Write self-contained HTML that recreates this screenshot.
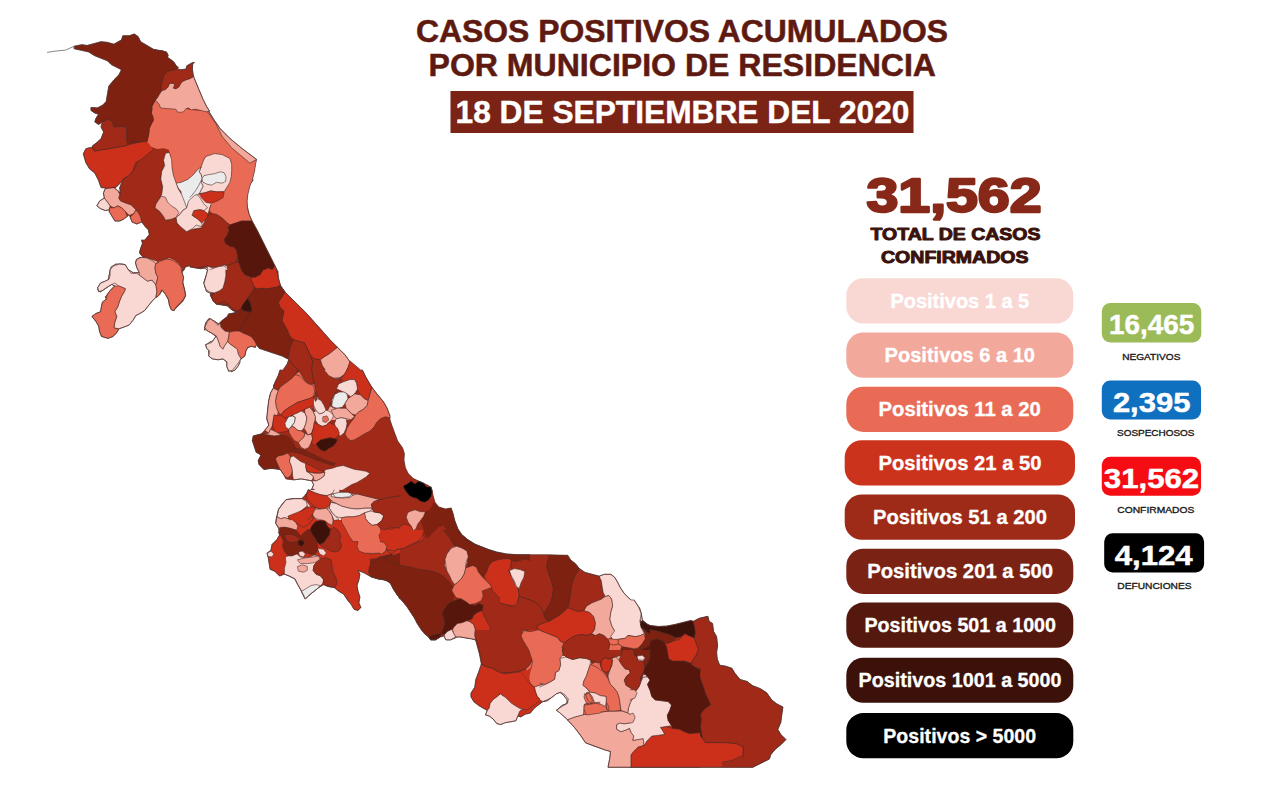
<!DOCTYPE html>
<html><head><meta charset="utf-8"><title>Casos positivos acumulados</title>
<style>
html,body{margin:0;padding:0;background:#fff;}
body{width:1280px;height:785px;overflow:hidden;font-family:"Liberation Sans",sans-serif;}
svg{display:block;font-family:"Liberation Sans",sans-serif;}
</style></head><body>
<svg width="1280" height="785" viewBox="0 0 1280 785">
<rect width="1280" height="785" fill="#ffffff"/>
<g id="map">
<path d="M92.2 146.1 L92.7 147.0 L85.9 148.7 L83.3 153.8 L85.9 162.7 L89.7 169.0 L94.8 172.9 L98.6 180.5 L101.1 187.6 L105.6 187.9 L103.4 193.4 L104.4 198.2 L99.6 201.1 L96.8 205.9 L100.6 208.7 L105.4 210.6 L109.7 209.6 L109.2 211.6 L114.9 221.1 L119.7 221.1 L123.5 219.2 L129.2 214.9 L132.1 222.1 L136.9 224.0 L141.8 222.0 L145.5 226.9 L148.3 229.7 L149.3 234.5 L146.4 238.3 L144.8 240.0 L141.6 240.0 L142.5 243.8 L140.6 248.6 L139.7 251.7 L139.9 252.1 L139.7 253.4 L143.8 257.5 L139.7 257.5 L139.2 258.2 L136.8 259.1 L135.5 262.9 L136.8 267.7 L139.3 272.7 L133.1 272.7 L128.1 269.4 L125.4 264.8 L123.9 264.6 L123.5 264.1 L121.1 264.1 L119.6 263.9 L118.9 264.1 L115.9 264.1 L111.1 267.0 L110.6 269.1 L110.1 269.6 L110.1 271.1 L109.2 274.6 L108.4 279.5 L105.3 281.1 L100.5 283.0 L97.6 287.8 L98.0 289.2 L97.7 289.9 L98.3 290.3 L98.6 291.6 L99.8 291.3 L100.6 291.8 L107.8 286.9 L111.8 284.5 L114.7 286.0 L110.1 290.6 L107.2 294.5 L107.1 294.9 L105.4 296.6 L106.4 299.1 L102.4 302.1 L101.5 305.9 L100.5 311.7 L95.7 313.6 L91.9 316.4 L95.7 321.2 L98.6 326.0 L99.6 331.7 L101.5 336.5 L108.2 338.4 L112.9 336.5 L116.8 332.7 L118.7 328.9 L124.4 326.9 L129.2 325.0 L133.0 320.3 L135.9 315.5 L139.7 313.6 L144.5 310.7 L152.1 301.1 L155.9 297.3 L156.9 297.3 L159.7 294.5 L160.3 293.1 L162.3 290.5 L165.5 294.5 L168.4 299.4 L169.3 305.0 L171.2 309.7 L174.1 310.7 L174.7 309.4 L182.7 301.4 L185.6 295.7 L184.6 289.9 L182.8 282.4 L183.6 277.3 L182.1 272.7 L182.4 271.2 L183.6 270.6 L185.5 266.8 L190.0 265.6 L190.0 266.9 L195.7 267.9 L200.8 268.7 L204.8 268.0 L207.5 270.7 L204.6 280.5 L203.8 282.3 L204.0 282.9 L203.8 283.4 L206.6 291.6 L210.4 293.1 L210.4 295.4 L212.6 299.6 L213.4 301.5 L215.3 302.9 L216.1 304.0 L217.2 304.4 L217.5 304.2 L227.6 305.9 L231.4 309.7 L237.0 312.6 L228.7 313.9 L227.3 316.6 L223.9 319.2 L222.9 319.7 L220.1 322.5 L219.0 324.2 L214.8 321.4 L212.5 320.3 L210.5 318.7 L210.2 319.1 L209.1 318.5 L208.7 319.4 L208.5 319.3 L205.6 323.1 L204.6 327.9 L205.0 328.1 L204.3 330.0 L206.8 330.0 L207.6 331.1 L211.8 333.2 L215.9 336.4 L212.5 341.2 L209.4 342.2 L207.8 343.8 L205.7 344.5 L206.7 348.3 L208.9 350.6 L208.5 352.7 L209.0 353.8 L208.6 356.0 L212.4 358.9 L218.2 359.8 L222.9 358.9 L225.5 360.8 L226.8 362.5 L226.8 366.5 L228.7 371.3 L230.6 370.8 L231.4 371.8 L235.2 369.9 L238.1 366.1 L240.0 362.3 L240.0 360.5 L241.1 358.9 L244.9 356.0 L245.9 351.2 L247.8 347.4 L251.6 346.4 L255.4 347.4 L256.4 344.5 L259.2 348.3 L282.2 356.0 L287.9 358.9 L288.9 359.8 L286.9 364.6 L283.1 370.0 L280.1 370.0 L278.2 375.7 L275.4 381.5 L273.6 385.6 L273.4 386.2 L273.7 387.1 L273.4 388.2 L270.6 392.9 L268.7 400.6 L266.8 417.8 L267.0 418.8 L266.9 420.0 L267.3 420.0 L268.7 425.4 L264.8 430.2 L261.0 434.0 L253.4 435.9 L252.4 440.7 L256.2 452.2 L261.0 455.0 L258.2 460.8 L259.1 464.6 L263.9 469.4 L271.5 468.4 L280.1 469.4 L283.9 475.1 L285.9 478.9 L293.5 479.9 L301.1 478.9 L311.7 480.8 L313.6 484.6 L311.7 489.4 L310.9 490.0 L308.3 490.0 L307.0 493.1 L305.0 495.2 L305.1 495.8 L301.6 498.6 L293.9 498.6 L286.3 499.6 L285.3 500.8 L284.9 500.9 L281.1 505.7 L280.5 506.8 L278.7 509.1 L276.8 516.8 L275.8 523.4 L278.7 528.2 L279.2 531.7 L278.7 533.0 L279.8 534.6 L276.8 539.7 L272.0 544.5 L271.0 550.2 L267.2 553.1 L268.2 556.9 L270.1 569.3 L274.8 571.2 L279.6 576.0 L284.4 574.1 L289.2 576.0 L294.9 578.9 L297.8 584.6 L301.6 591.3 L305.4 598.9 L309.2 595.1 L318.8 587.5 L323.6 584.6 L328.3 586.5 L334.1 587.5 L338.9 591.3 L343.6 594.1 L347.5 599.9 L351.3 604.6 L354.1 609.4 L358.0 610.4 L360.8 607.5 L358.9 602.7 L359.9 597.0 L358.0 591.3 L357.0 585.5 L358.9 579.8 L359.9 574.1 L358.0 570.3 L364.6 573.1 L371.3 576.9 L378.0 578.9 L383.8 579.8 L387.4 581.0 L390.5 583.5 L393.4 589.2 L397.2 595.0 L398.7 596.8 L400.0 598.9 L400.0 598.3 L406.8 606.4 L414.4 617.9 L417.3 623.6 L421.1 629.4 L424.9 634.1 L428.7 637.0 L430.6 639.9 L435.4 639.9 L440.2 637.0 L444.0 636.1 L445.9 639.9 L450.7 639.9 L452.1 639.0 L453.8 638.6 L457.0 637.0 L460.3 637.0 L471.7 638.9 L475.5 639.9 L479.4 654.2 L481.3 663.8 L481.0 665.7 L475.8 679.7 L474.8 687.3 L471.0 693.1 L471.0 696.9 L473.9 701.7 L478.7 705.5 L483.4 708.3 L487.3 710.3 L485.4 715.0 L489.2 716.0 L493.0 718.9 L496.8 723.6 L500.6 724.6 L505.4 722.7 L515.9 720.8 L517.8 716.0 L520.7 716.9 L525.5 714.1 L530.3 713.1 L534.1 708.3 L542.7 701.7 L547.5 700.7 L556.3 693.9 L560.0 692.4 L563.1 694.7 L566.9 699.5 L567.2 701.2 L566.6 703.6 L561.8 705.5 L558.5 708.8 L556.3 710.2 L559.8 712.8 L567.5 719.7 L574.4 727.4 L580.4 735.2 L585.6 742.9 L604.5 749.8 L610.5 751.5 L609.7 758.4 L608.0 767.3 L752.9 767.3 L769.4 759.0 L770.6 754.9 L774.7 749.8 L780.8 744.7 L785.9 739.6 L780.8 734.5 L777.8 729.4 L780.8 722.3 L782.9 707.0 L776.8 703.9 L771.7 699.9 L766.6 692.7 L760.4 688.7 L752.3 685.6 L747.2 681.5 L740.1 679.5 L735.0 673.4 L731.9 668.3 L725.8 666.2 L719.7 665.2 L717.2 659.1 L716.6 652.0 L717.6 645.9 L716.6 636.7 L713.6 631.6 L712.5 623.4 L709.1 621.4 L707.9 616.3 L699.3 618.3 L693.2 621.4 L691.1 620.4 L674.8 624.5 L666.7 626.1 L658.5 626.5 L650.4 625.5 L648.3 624.8 L642.4 620.2 L641.2 613.2 L639.5 607.8 L638.4 606.7 L634.1 600.0 L631.1 600.0 L629.0 598.2 L624.2 593.4 L620.4 587.7 L617.5 582.0 L614.6 577.2 L610.8 574.3 L604.1 574.3 L599.4 576.2 L585.0 572.4 L579.3 568.6 L575.5 563.8 L570.7 560.0 L567.8 555.2 L547.8 554.8 L517.6 554.8 L506.1 553.9 L496.6 552.0 L488.4 549.5 L475.1 544.2 L467.5 539.4 L461.7 534.6 L457.9 528.9 L455.0 521.3 L453.1 513.6 L451.2 507.9 L445.5 508.9 L438.8 506.9 L435.0 502.2 L433.1 495.5 L432.1 489.7 L431.6 489.1 L431.1 486.9 L430.0 486.9 L429.2 485.9 L423.5 483.1 L418.7 481.1 L413.0 478.3 L408.2 473.5 L405.4 467.8 L404.0 460.1 L404.4 453.4 L402.5 447.7 L397.7 441.0 L392.0 425.7 L390.0 419.8 L390.0 415.9 L387.1 408.2 L383.3 401.5 L377.6 394.8 L371.8 387.2 L366.1 377.6 L362.3 370.0 L360.6 370.0 L350.3 361.2 L349.6 361.2 L345.2 355.0 L329.9 339.7 L307.0 313.9 L285.0 292.0 L280.7 285.9 L279.8 283.4 L278.2 276.9 L277.9 271.7 L256.9 229.7 L252.1 221.1 L249.2 214.4 L247.3 206.8 L247.0 201.1 L248.0 193.8 L249.9 186.1 L251.0 183.1 L253.1 180.0 L252.4 180.0 L254.6 170.8 L255.6 164.1 L256.6 159.4 L241.3 147.9 L229.8 138.3 L220.3 128.8 L213.6 119.2 L208.8 111.3 L209.6 111.1 L207.1 107.3 L203.2 99.7 L193.7 76.8 L193.1 74.2 L192.4 69.1 L192.7 64.0 L194.3 62.4 L192.4 62.7 L186.7 65.9 L186.1 69.1 L181.0 69.7 L177.1 69.1 L178.4 67.8 L175.9 65.3 L173.9 62.1 L170.8 59.6 L169.2 58.8 L167.4 57.0 L168.2 55.7 L166.9 52.5 L166.2 52.3 L166.1 51.8 L163.9 51.4 L161.8 50.6 L158.9 50.4 L153.4 49.3 L140.6 41.7 L138.1 36.6 L134.3 34.0 L129.2 35.8 L122.8 35.8 L121.5 39.9 L113.9 44.2 L107.5 42.4 L101.1 41.7 L87.1 45.5 L82.0 44.7 L74.4 46.2 L74.4 48.8 L88.4 51.8 L94.8 55.7 L107.5 60.8 L111.3 64.6 L121.5 69.7 L119.0 74.8 L113.9 79.9 L108.8 86.2 L106.2 101.5 L102.4 105.4 L97.3 107.9 L91.0 107.4 L91.0 110.4 L94.8 113.0 L98.6 114.3 L96.1 118.1 L94.8 121.9 L98.6 124.5 L102.4 121.9 L101.1 127.0 L103.7 132.1 L101.1 138.5 L97.3 142.3ZM114.9 188.4 L122.4 180.9 L119.7 187.7 L120.4 192.5Z" fill="#a12917" fill-rule="evenodd"/>
<polygon points="280.1,370.0 362.3,370.0 366.1,377.6 371.8,387.2 377.6,394.8 383.3,401.5 387.1,408.2 390.0,415.9 390.0,520.0 277.3,520.0 278.2,511.4 281.1,505.7 284.9,500.9 291.6,499.9 299.2,499.0 305.9,499.9 305.0,495.2 307.8,492.3 311.7,489.4 313.6,484.6 311.7,480.8 301.1,478.9 293.5,479.9 285.9,478.9 283.9,475.1 280.1,469.4 271.5,468.4 263.9,469.4 259.1,464.6 258.2,460.8 261.0,455.0 256.2,452.2 254.3,446.4 252.4,440.7 253.4,435.9 261.0,434.0 264.8,430.2 268.7,425.4 266.8,417.8 267.7,408.2 268.7,400.6 270.6,392.9 273.4,388.2 275.4,381.5 278.2,375.7" fill="#a12917"/>
<polygon points="370.0,420.0 390.1,420.0 392.0,425.7 394.8,433.4 397.7,441.0 402.5,447.7 404.4,453.4 404.0,460.1 405.4,467.8 408.2,473.5 413.0,478.3 418.7,481.1 423.5,483.1 429.2,485.9 432.1,489.7 433.1,495.5 435.0,502.2 438.8,506.9 445.5,508.9 451.2,507.9 453.1,513.6 455.0,521.3 457.9,528.9 461.7,534.6 467.5,539.4 475.1,544.2 484.6,548.0 494.2,551.8 503.8,554.7 513.3,555.7 520.0,555.7 520.0,570.0 370.0,570.0" fill="#a12917"/>
<polygon points="380.0,530.0 457.4,530.0 460.3,534.8 465.0,539.6 471.7,543.4 479.4,546.2 487.0,549.1 496.6,552.0 506.1,553.9 517.6,554.8 530.0,554.8 530.0,680.0 478.4,680.0 480.3,671.4 481.3,663.8 479.4,654.2 477.5,646.6 475.5,639.9 471.7,638.9 466.0,638.0 460.3,637.0 455.5,637.0 450.7,639.9 445.9,639.9 444.0,636.1 440.2,637.0 435.4,639.9 430.6,639.9 428.7,637.0 424.9,634.1 421.1,629.4 417.3,623.6 414.4,617.9 410.6,612.2 406.8,606.4 402.0,600.7 397.2,595.0 393.4,589.2 390.5,583.5 385.7,579.7 380.0,578.7" fill="#a12917"/>
<polygon points="308.3,490.0 306.4,494.8 301.6,498.6 293.9,498.6 286.3,499.6 282.5,504.3 278.7,509.1 276.8,516.8 275.8,523.4 278.7,528.2 279.6,534.9 276.8,539.7 272.0,544.5 271.0,550.2 267.2,553.1 268.2,556.9 269.1,563.6 270.1,569.3 274.8,571.2 279.6,576.0 284.4,574.1 289.2,576.0 294.9,578.9 297.8,584.6 301.6,591.3 305.4,598.9 309.2,595.1 314.0,591.3 318.8,587.5 323.6,584.6 328.3,586.5 334.1,587.5 338.9,591.3 343.6,594.1 347.5,599.9 351.3,604.6 354.1,609.4 358.0,610.4 360.8,607.5 358.9,602.7 359.9,597.0 358.0,591.3 357.0,585.5 358.9,579.8 359.9,574.1 358.0,570.3 364.6,573.1 371.3,576.9 378.0,578.9 383.8,579.8 389.5,581.7 393.3,587.5 397.1,594.1 400.0,598.9 400.0,490.0" fill="#cc301a"/>
<path d="M308.3 490.0L306.4 494.8L301.6 498.6L293.9 498.6L286.3 499.6L282.5 504.3L278.7 509.1L276.8 516.8L275.8 523.4L278.7 528.2L279.6 534.9L276.8 539.7L272.0 544.5L271.0 550.2L267.2 553.1L268.2 556.9L269.1 563.6L270.1 569.3L274.8 571.2L279.6 576.0L284.4 574.1L289.2 576.0L294.9 578.9L297.8 584.6L301.6 591.3L305.4 598.9L309.2 595.1L314.0 591.3L318.8 587.5L323.6 584.6L328.3 586.5L334.1 587.5L338.9 591.3L343.6 594.1L347.5 599.9L351.3 604.6L354.1 609.4L358.0 610.4L360.8 607.5L358.9 602.7L359.9 597.0L358.0 591.3L357.0 585.5L358.9 579.8L359.9 574.1L358.0 570.3L364.6 573.1L371.3 576.9L378.0 578.9L383.8 579.8L389.5 581.7L393.3 587.5L397.1 594.1L400.0 598.9" fill="none" stroke="#4a2a26" stroke-opacity="0.65" stroke-width="0.9" stroke-linejoin="round" stroke-linecap="round"/>
<polygon points="138.8,160.0 163.6,160.0 164.6,165.7 161.7,171.5 160.8,179.1 162.7,186.8 161.7,194.4 159.8,198.2 156.0,203.9 155.0,207.8 159.8,211.6 163.6,216.4 165.5,220.2 171.3,219.2 176.1,217.3 177.0,223.1 180.8,226.9 186.6,231.7 192.3,228.8 196.1,225.0 201.8,226.9 203.8,221.1 207.6,217.3 213.3,214.5 220.0,216.4 220.0,268.9 215.2,267.0 209.5,268.0 203.8,267.0 198.0,268.0 192.3,266.1 186.6,265.1 182.7,268.9 180.8,266.1 178.9,263.2 174.1,259.4 169.4,257.5 163.6,259.4 157.9,261.3 152.2,259.4 146.4,257.5 141.7,255.5 139.7,251.7 141.7,246.0 143.6,241.2 146.4,238.3 149.3,234.5 148.3,229.7 145.5,226.9 142.6,223.1 140.7,217.3 138.8,213.5 135.9,209.7 131.1,204.9 125.4,203.0 120.6,201.1 118.7,198.2 120.6,194.4 119.7,187.7 121.6,182.9 123.5,179.1 127.3,176.2 131.1,173.4 135.0,167.6 136.9,163.8" fill="#a12917"/>
<path d="M163.6 160.0L164.6 165.7L161.7 171.5L160.8 179.1L162.7 186.8L161.7 194.4L159.8 198.2L156.0 203.9L155.0 207.8L159.8 211.6L163.6 216.4L165.5 220.2L171.3 219.2L176.1 217.3L177.0 223.1L180.8 226.9L186.6 231.7L192.3 228.8L196.1 225.0L201.8 226.9L203.8 221.1L207.6 217.3L213.3 214.5L220.0 216.4M220.0 268.9L215.2 267.0L209.5 268.0L203.8 267.0L198.0 268.0L192.3 266.1L186.6 265.1L182.7 268.9L180.8 266.1L178.9 263.2L174.1 259.4L169.4 257.5L163.6 259.4L157.9 261.3L152.2 259.4L146.4 257.5L141.7 255.5L139.7 251.7L141.7 246.0L143.6 241.2L146.4 238.3L149.3 234.5L148.3 229.7L145.5 226.9L142.6 223.1L140.7 217.3L138.8 213.5L135.9 209.7L131.1 204.9L125.4 203.0L120.6 201.1L118.7 198.2L120.6 194.4L119.7 187.7L121.6 182.9L123.5 179.1L127.3 176.2L131.1 173.4L135.0 167.6L136.9 163.8L138.8 160.0" fill="none" stroke="#4a2a26" stroke-opacity="0.65" stroke-width="0.9" stroke-linejoin="round" stroke-linecap="round"/>
<polygon points="141.6,240.0 240.0,240.0 240.0,264.8 237.1,261.0 231.4,262.0 227.6,264.8 223.8,265.8 218.0,266.8 212.3,268.7 206.6,267.7 200.8,268.7 195.1,267.7 189.4,265.8 185.5,266.8 183.6,270.6 181.7,271.5 180.8,266.8 176.9,262.9 172.2,260.1 166.4,259.1 160.7,261.0 155.9,263.9 153.1,261.0 147.3,258.2 142.5,256.2 139.7,253.4 140.6,248.6 142.5,243.8" fill="#a12917"/>
<path d="M240.0 264.8L237.1 261.0L231.4 262.0L227.6 264.8L223.8 265.8L218.0 266.8L212.3 268.7L206.6 267.7L200.8 268.7L195.1 267.7L189.4 265.8L185.5 266.8L183.6 270.6L181.7 271.5L180.8 266.8L176.9 262.9L172.2 260.1L166.4 259.1L160.7 261.0L155.9 263.9L153.1 261.0L147.3 258.2L142.5 256.2L139.7 253.4L140.6 248.6L142.5 243.8L141.6 240.0" fill="none" stroke="#4a2a26" stroke-opacity="0.65" stroke-width="0.9" stroke-linejoin="round" stroke-linecap="round"/>
<polygon points="227.6,264.8 231.4,262.0 237.1,261.0 240.0,264.8 240.0,312.6 235.2,311.7 231.4,309.7 227.6,305.9 221.8,305.0 216.1,304.0 212.3,299.2 210.4,295.4 210.4,293.1 216.1,291.6 219.9,288.7 223.8,285.9 225.7,280.1 226.6,274.4 227.6,268.7" fill="#a12917"/>
<path d="M240.0 312.6L235.2 311.7L231.4 309.7L227.6 305.9L221.8 305.0L216.1 304.0L212.3 299.2L210.4 295.4L210.4 293.1L216.1 291.6L219.9 288.7L223.8 285.9L225.7 280.1L226.6 274.4L227.6 268.7L227.6 264.8L231.4 262.0L237.1 261.0L240.0 264.8" fill="none" stroke="#4a2a26" stroke-opacity="0.65" stroke-width="0.9" stroke-linejoin="round" stroke-linecap="round"/>
<polygon points="190.0,229.7 195.7,228.7 201.5,227.8 203.4,223.9 206.2,218.2 209.1,214.4 212.0,213.4 216.8,214.4 222.5,218.2 226.3,222.0 230.1,224.9 228.2,227.8 229.2,230.6 227.3,235.4 224.4,239.2 225.4,243.1 229.2,245.9 233.9,246.9 236.8,250.7 237.8,256.4 235.9,262.2 231.1,264.1 227.3,266.0 224.4,265.0 218.7,266.9 212.9,267.9 207.2,266.0 201.5,266.9 195.7,267.9 190.0,266.9" fill="#a12917"/>
<path d="M190.0 229.7L195.7 228.7L201.5 227.8L203.4 223.9L206.2 218.2L209.1 214.4L212.0 213.4L216.8 214.4L222.5 218.2L226.3 222.0L230.1 224.9L228.2 227.8L229.2 230.6L227.3 235.4L224.4 239.2L225.4 243.1L229.2 245.9L233.9 246.9L236.8 250.7L237.8 256.4L235.9 262.2L231.1 264.1L227.3 266.0L224.4 265.0L218.7 266.9L212.9 267.9L207.2 266.0L201.5 266.9L195.7 267.9L190.0 266.9" fill="none" stroke="#4a2a26" stroke-opacity="0.65" stroke-width="0.9" stroke-linejoin="round" stroke-linecap="round"/>
<polygon points="153.4,149.9 157.2,148.7 164.8,148.7 168.7,152.5 166.1,158.9 164.1,161.4 138.9,161.4 141.9,158.9 149.6,152.5" fill="#a12917"/>
<polygon points="190.0,180.0 231.1,180.0 231.1,183.8 228.2,187.6 223.4,191.5 224.4,195.3 220.6,199.1 214.8,201.0 211.0,204.8 209.1,210.6 206.2,218.2 203.4,223.9 201.5,227.8 195.7,228.7 190.0,229.7" fill="#f9d8d4"/>
<path d="M231.1 180.0L231.1 183.8L228.2 187.6L223.4 191.5L224.4 195.3L220.6 199.1L214.8 201.0L211.0 204.8L209.1 210.6L206.2 218.2L203.4 223.9L201.5 227.8L195.7 228.7L190.0 229.7" fill="none" stroke="#4a2a26" stroke-opacity="0.65" stroke-width="0.9" stroke-linejoin="round" stroke-linecap="round"/>
<polygon points="433.1,502.2 438.8,506.9 445.5,508.9 451.2,507.9 453.1,513.6 455.0,521.3 452.2,527.0 450.3,532.7 446.4,529.9 443.6,526.1 438.8,527.0 435.0,530.8 431.1,534.6 427.3,538.5 424.5,534.6 423.5,528.9 420.6,520.3 423.5,516.5 425.4,511.7 429.2,509.8 432.1,506.0" fill="#7f2110"/>
<polygon points="455.0,521.3 457.9,528.9 461.7,534.6 467.5,539.4 475.1,544.2 484.6,548.0 494.2,551.8 503.8,554.7 513.3,555.7 520.0,555.7 520.0,563.3 515.2,562.4 511.4,559.5 503.8,557.6 496.1,558.5 490.4,561.4 488.5,567.1 487.5,570.0 469.4,570.0 468.4,563.3 467.5,555.7 464.6,549.9 459.8,547.1 455.0,546.1 452.2,542.3 450.3,538.5 450.3,532.7 452.2,527.0" fill="#7f2110"/>
<path d="M520.0 563.3L515.2 562.4L511.4 559.5L503.8 557.6L496.1 558.5L490.4 561.4L488.5 567.1L487.5 570.0M469.4 570.0L468.4 563.3L467.5 555.7L464.6 549.9L459.8 547.1L455.0 546.1L452.2 542.3L450.3 538.5L450.3 532.7L452.2 527.0L455.0 521.3L457.9 528.9L461.7 534.6L467.5 539.4L475.1 544.2L484.6 548.0L494.2 551.8L503.8 554.7L513.3 555.7L520.0 555.7" fill="none" stroke="#4a2a26" stroke-opacity="0.65" stroke-width="0.9" stroke-linejoin="round" stroke-linecap="round"/>
<polygon points="500.0,554.8 547.8,554.8 547.8,560.0 500.0,560.0" fill="#a12917"/>
<polygon points="547.8,554.8 567.8,555.2 570.7,560.0 547.8,560.0" fill="#7f2110"/>
<polygon points="155.5,100.3 157.4,102.2 159.3,104.8 160.6,108.0 166.9,108.6 166.9,116.2 152.9,116.2 151.0,112.4 151.0,107.3 152.9,103.5" fill="#e96b55"/>
<polygon points="233.9,180.0 253.1,180.0 249.2,185.7 247.3,191.5 246.9,199.1 247.3,206.8 249.2,214.4 252.1,221.1 247.3,221.1 241.6,221.1 235.9,223.0 230.1,224.9 226.3,222.0 222.5,218.2 216.8,214.4 212.0,213.4 209.1,210.6 211.0,204.8 214.8,201.0 220.6,199.1 224.4,195.3 223.4,191.5 228.2,187.6 231.1,183.8" fill="#e96b55"/>
<path d="M253.1 180.0L249.2 185.7L247.3 191.5L246.9 199.1L247.3 206.8L249.2 214.4L252.1 221.1L247.3 221.1L241.6 221.1L235.9 223.0L230.1 224.9L226.3 222.0L222.5 218.2L216.8 214.4L212.0 213.4L209.1 210.6L211.0 204.8L214.8 201.0L220.6 199.1L224.4 195.3L223.4 191.5L228.2 187.6L231.1 183.8L233.9 180.0" fill="none" stroke="#4a2a26" stroke-opacity="0.65" stroke-width="0.9" stroke-linejoin="round" stroke-linecap="round"/>
<polygon points="511.5,560.0 547.8,560.0 546.8,566.7 548.7,573.4 551.6,581.0 553.5,588.7 552.5,596.3 550.6,603.0 546.8,608.7 543.9,614.5 541.1,607.8 536.3,603.0 530.6,600.1 524.8,598.2 519.1,596.3 518.2,588.7 515.3,582.9 511.5,576.2 508.6,570.5 510.5,565.7" fill="#a12917"/>
<path d="M547.8 560.0L546.8 566.7L548.7 573.4L551.6 581.0L553.5 588.7L552.5 596.3L550.6 603.0L546.8 608.7L543.9 614.5L541.1 607.8L536.3 603.0L530.6 600.1L524.8 598.2L519.1 596.3L518.2 588.7L515.3 582.9L511.5 576.2L508.6 570.5L510.5 565.7L511.5 560.0" fill="none" stroke="#4a2a26" stroke-opacity="0.65" stroke-width="0.9" stroke-linejoin="round" stroke-linecap="round"/>
<polygon points="500.0,603.0 507.6,604.9 513.4,605.9 517.2,602.0 519.1,596.3 524.8,598.2 530.6,600.1 536.3,603.0 541.1,607.8 543.9,614.5 545.9,619.2 549.7,621.1 545.9,622.1 541.1,624.0 537.3,625.9 538.2,629.7 530.6,631.7 524.8,630.7 521.0,635.5 522.9,640.3 525.8,645.0 528.7,649.8 530.6,655.5 532.5,661.3 531.5,667.0 527.7,669.9 521.0,671.8 513.4,672.7 505.7,673.7 500.0,672.7" fill="#a12917"/>
<path d="M500.0 603.0L507.6 604.9L513.4 605.9L517.2 602.0L519.1 596.3L524.8 598.2L530.6 600.1L536.3 603.0L541.1 607.8L543.9 614.5L545.9 619.2L549.7 621.1L545.9 622.1L541.1 624.0L537.3 625.9L538.2 629.7L530.6 631.7L524.8 630.7L521.0 635.5L522.9 640.3L525.8 645.0L528.7 649.8L530.6 655.5L532.5 661.3L531.5 667.0L527.7 669.9L521.0 671.8L513.4 672.7L505.7 673.7L500.0 672.7" fill="none" stroke="#4a2a26" stroke-opacity="0.65" stroke-width="0.9" stroke-linejoin="round" stroke-linecap="round"/>
<polygon points="630.0,647.9 634.1,648.9 638.2,647.9 641.2,648.9 645.3,647.9 649.4,645.9 650.4,652.0 648.3,658.1 644.3,663.2 643.2,670.3 647.3,674.4 650.4,678.5 647.3,676.4 644.3,677.5 641.2,680.5 638.2,685.6 634.1,689.7 630.0,687.6" fill="#a12917"/>
<path d="M630.0 647.9L634.1 648.9L638.2 647.9L641.2 648.9L645.3 647.9L649.4 645.9L650.4 652.0L648.3 658.1L644.3 663.2L643.2 670.3L647.3 674.4L650.4 678.5L647.3 676.4L644.3 677.5L641.2 680.5L638.2 685.6L634.1 689.7L630.0 687.6" fill="none" stroke="#4a2a26" stroke-opacity="0.65" stroke-width="0.9" stroke-linejoin="round" stroke-linecap="round"/>
<polygon points="348.5,361.2 350.3,361.2 364.6,373.4 362.3,370.8 348.5,370.8" fill="#cc301a"/>
<polygon points="608.0,639.3 612.7,639.3 618.5,639.3 618.5,644.1 613.7,645.0 609.9,644.1" fill="#e96b55"/>
<polygon points="74.4,46.2 82.0,44.7 87.1,45.5 94.8,43.4 101.1,41.7 107.5,42.4 113.9,44.2 121.5,39.9 122.8,35.8 129.2,35.8 134.3,34.0 138.1,36.6 140.6,41.7 147.0,45.5 153.4,49.3 159.7,50.6 166.1,51.8 167.4,56.9 172.5,62.0 176.3,67.1 177.6,69.7 167.4,71.0 164.8,74.8 162.3,79.9 159.7,85.0 155.9,86.8 154.6,91.3 158.5,96.4 154.6,101.5 152.1,106.6 152.1,114.3 154.6,120.6 152.1,127.0 149.6,133.4 147.0,139.7 141.9,141.8 127.9,144.8 126.6,139.7 126.6,127.0 121.5,126.5 113.9,127.0 111.3,120.6 107.5,119.4 102.4,121.9 98.6,124.5 94.8,121.9 96.1,118.1 98.6,114.3 94.8,113.0 91.0,110.4 91.0,107.4 97.3,107.9 102.4,105.4 106.2,101.5 107.5,93.9 108.8,86.2 113.9,79.9 119.0,74.8 121.5,69.7 116.4,67.1 111.3,64.6 107.5,60.8 101.1,58.2 94.8,55.7 88.4,51.8 80.8,50.1 74.4,48.8" fill="#7f2110" stroke="#4a2a26" stroke-opacity="0.65" stroke-width="0.9" stroke-linejoin="round" stroke-linecap="round"/>
<polygon points="127.9,144.8 141.9,141.8 147.0,139.7 150.8,144.8 153.4,149.9 149.6,152.5 141.9,158.9 135.5,162.7 133.0,170.3 129.2,175.4 124.1,178.0 120.3,183.1 116.4,186.9 108.8,188.2 101.1,187.6 98.6,180.5 94.8,172.9 89.7,169.0 85.9,162.7 83.3,153.8 85.9,148.7 91.0,147.4 94.8,151.2 101.1,149.9 108.8,148.7 116.4,147.4 124.1,146.1" fill="#cc301a" stroke="#4a2a26" stroke-opacity="0.65" stroke-width="0.9" stroke-linejoin="round" stroke-linecap="round"/>
<polygon points="102.4,121.9 107.5,119.4 111.3,120.6 113.9,127.0 121.5,126.5 126.6,127.0 126.6,139.7 127.9,144.8 124.1,146.1 116.4,147.4 108.8,148.7 101.1,149.9 94.8,151.2 92.2,146.1 97.3,142.3 101.1,138.5 103.7,132.1 101.1,127.0" fill="#a12917" stroke="#4a2a26" stroke-opacity="0.65" stroke-width="0.9" stroke-linejoin="round" stroke-linecap="round"/>
<polygon points="154.3,105.9 159.1,107.8 176.3,108.7 180.1,112.5 185.9,108.7 190.6,110.1 197.3,110.6 207.8,111.6 215.5,123.1 222.2,136.4 231.7,147.9 243.2,157.5 249.9,163.2 256.6,159.4 255.6,164.1 254.6,170.8 252.7,178.5 249.9,186.1 248.0,193.8 247.0,201.4 246.1,210.0 216.4,210.0 212.6,207.1 210.7,203.3 216.4,201.4 223.1,197.6 224.1,191.8 226.9,187.1 229.8,182.3 231.3,176.6 231.7,170.8 231.7,164.1 229.8,158.4 222.2,154.6 214.5,153.6 205.9,156.5 203.1,161.3 201.1,167.0 197.3,169.9 193.5,174.6 187.8,179.4 181.1,182.3 176.3,183.2 174.4,178.5 172.5,170.8 171.5,163.2 170.6,155.5 168.7,149.8 163.9,148.3 157.2,148.9 151.5,146.9 147.6,142.2 148.6,136.4 149.6,128.8 153.4,121.1 151.5,113.5" fill="#e96b55"/>
<polygon points="207.8,111.6 208.8,111.2 213.6,119.2 220.3,128.8 229.8,138.3 241.3,147.9 252.7,156.5 256.6,159.4 249.9,163.2 243.2,157.5 231.7,147.9 222.2,136.4 215.5,123.1" fill="#f3a89c" stroke="#4a2a26" stroke-opacity="0.65" stroke-width="0.9" stroke-linejoin="round" stroke-linecap="round"/>
<polygon points="205.9,156.5 214.5,153.6 222.2,154.6 229.8,158.4 231.7,164.1 231.7,170.8 231.3,176.6 229.8,182.3 226.9,187.1 224.1,191.8 216.4,191.8 210.7,190.9 205.0,192.8 199.2,193.8 201.1,189.9 203.1,186.1 201.1,182.3 202.1,178.5 201.1,174.6 199.2,171.8 201.1,167.0 203.1,161.3" fill="#f9d8d4" stroke="#4a2a26" stroke-opacity="0.65" stroke-width="0.9" stroke-linejoin="round" stroke-linecap="round"/>
<polygon points="176.3,183.2 181.1,182.3 187.8,179.4 193.5,174.6 197.3,169.9 201.1,167.0 199.2,171.8 201.1,174.6 202.1,178.5 201.1,182.3 203.1,186.1 201.1,189.9 199.2,193.8 195.4,195.7 191.6,198.5 188.7,202.4 186.8,207.1 184.9,210.0 183.0,205.2 181.1,197.6 181.1,191.8 178.2,188.0" fill="#ebebeb" stroke="#4a2a26" stroke-opacity="0.65" stroke-width="0.9" stroke-linejoin="round" stroke-linecap="round"/>
<polygon points="199.2,193.8 205.0,192.8 210.7,190.9 216.4,191.8 224.1,191.8 223.1,197.6 216.4,201.4 210.7,203.3 205.9,202.4 202.1,198.5" fill="#cc301a" stroke="#4a2a26" stroke-opacity="0.65" stroke-width="0.9" stroke-linejoin="round" stroke-linecap="round"/>
<polygon points="163.6,160.0 165.5,153.3 169.4,152.4 171.7,160.0 172.0,167.6 173.4,175.3 176.2,183.3 178.2,188.7 181.6,194.4 184.6,202.0 186.6,207.8 182.7,210.6 179.9,214.5 176.1,217.3 171.3,219.2 165.5,220.2 163.6,216.4 159.8,211.6 155.0,207.8 156.0,203.9 159.8,198.2 161.7,194.4 162.7,186.8 160.8,179.1 161.7,171.5 164.6,165.7" fill="#f9d8d4" stroke="#4a2a26" stroke-opacity="0.65" stroke-width="0.9" stroke-linejoin="round" stroke-linecap="round"/>
<polygon points="186.6,207.8 188.5,201.1 192.3,197.3 196.1,194.4 199.0,196.3 203.8,203.9 207.6,207.8 203.8,210.6 199.9,209.7 194.2,210.6 192.3,215.4 198.0,219.2 201.8,223.1 201.8,226.9 196.1,225.0 192.3,228.8 186.6,231.7 180.8,226.9 177.0,223.1 176.1,217.3 179.9,214.5 182.7,210.6" fill="#f9d8d4" stroke="#4a2a26" stroke-opacity="0.65" stroke-width="0.9" stroke-linejoin="round" stroke-linecap="round"/>
<polygon points="105.4,188.7 113.9,187.7 117.8,190.6 119.7,194.4 118.7,198.2 120.6,201.1 125.4,203.0 131.1,204.9 135.9,209.7 134.0,213.5 129.2,215.4 125.4,211.6 121.6,207.8 117.8,205.9 113.9,207.8 110.1,205.9 107.3,202.0 104.4,198.2 103.4,193.4" fill="#f3a89c" stroke="#4a2a26" stroke-opacity="0.65" stroke-width="0.9" stroke-linejoin="round" stroke-linecap="round"/>
<polygon points="104.4,198.2 107.3,202.0 110.1,205.9 109.2,209.7 105.4,210.6 100.6,208.7 96.8,205.9 99.6,201.1" fill="#f9d8d4" stroke="#4a2a26" stroke-opacity="0.65" stroke-width="0.9" stroke-linejoin="round" stroke-linecap="round"/>
<polygon points="110.1,207.8 113.9,207.8 117.8,205.9 121.6,207.8 125.4,211.6 127.3,216.4 123.5,219.2 119.7,221.1 114.9,221.1 112.0,216.4 109.2,211.6" fill="#e96b55" stroke="#4a2a26" stroke-opacity="0.65" stroke-width="0.9" stroke-linejoin="round" stroke-linecap="round"/>
<polygon points="134.0,213.5 135.9,209.7 138.8,213.5 140.7,217.3 141.7,222.1 136.9,224.0 132.1,222.1 130.2,217.3" fill="#e96b55" stroke="#4a2a26" stroke-opacity="0.65" stroke-width="0.9" stroke-linejoin="round" stroke-linecap="round"/>
<polygon points="139.7,257.5 146.4,257.5 152.2,259.4 157.9,261.3 156.0,266.1 154.1,269.9 156.9,274.6 157.9,278.5 154.1,281.3 148.3,279.4 143.6,276.6 139.7,272.7 138.8,267.0 135.9,262.2" fill="#f3a89c" stroke="#4a2a26" stroke-opacity="0.65" stroke-width="0.9" stroke-linejoin="round" stroke-linecap="round"/>
<polygon points="157.9,261.3 163.6,259.4 169.4,257.5 174.1,259.4 178.9,263.2 180.8,266.1 182.7,268.9 181.8,274.6 182.7,282.3 184.6,289.9 185.6,295.7 182.7,301.4 178.9,305.2 174.1,310.0 171.3,305.2 168.4,299.5 165.5,293.8 162.7,289.9 159.8,293.8 156.0,296.6 154.1,291.8 155.0,286.1 153.1,283.2 154.1,281.3 157.9,278.5 156.9,274.6 154.1,269.9 156.0,266.1" fill="#e96b55" stroke="#4a2a26" stroke-opacity="0.65" stroke-width="0.9" stroke-linejoin="round" stroke-linecap="round"/>
<polygon points="111.1,267.0 115.9,264.1 123.5,264.1 127.3,268.9 133.1,272.7 139.7,272.7 143.6,276.6 148.3,279.4 154.1,281.3 153.1,283.2 155.0,286.1 154.1,291.8 150.3,297.6 146.4,303.3 142.6,310.0 117.8,310.0 119.7,305.2 123.5,299.5 125.4,293.8 121.6,291.8 114.9,286.1 111.1,284.2 106.3,288.0 100.6,291.8 97.7,289.9 99.6,285.2 103.4,282.3 108.2,280.4 109.2,274.6" fill="#f9d8d4"/>
<path d="M117.8 310.0L119.7 305.2L123.5 299.5L125.4 293.8L121.6 291.8L114.9 286.1L111.1 284.2L106.3 288.0L100.6 291.8L97.7 289.9L99.6 285.2L103.4 282.3L108.2 280.4L109.2 274.6L111.1 267.0L115.9 264.1L123.5 264.1L127.3 268.9L133.1 272.7L139.7 272.7L143.6 276.6L148.3 279.4L154.1 281.3L153.1 283.2L155.0 286.1L154.1 291.8L150.3 297.6L146.4 303.3L142.6 310.0" fill="none" stroke="#4a2a26" stroke-opacity="0.65" stroke-width="0.9" stroke-linejoin="round" stroke-linecap="round"/>
<polygon points="114.9,286.1 121.6,291.8 125.4,293.8 123.5,299.5 119.7,305.2 117.8,310.0 101.5,310.0 103.4,305.2 107.3,301.4 105.4,296.6 110.1,291.8" fill="#e96b55"/>
<path d="M101.5 310.0L103.4 305.2L107.3 301.4L105.4 296.6L110.1 291.8L114.9 286.1L121.6 291.8L125.4 293.8L123.5 299.5L119.7 305.2L117.8 310.0" fill="none" stroke="#4a2a26" stroke-opacity="0.65" stroke-width="0.9" stroke-linejoin="round" stroke-linecap="round"/>
<polygon points="203.8,267.0 209.5,268.0 215.2,267.0 220.0,268.9 220.0,289.9 215.2,291.8 209.5,291.8 205.7,288.0 203.8,282.3 206.6,276.6 207.6,270.8" fill="#f9d8d4"/>
<path d="M220.0 289.9L215.2 291.8L209.5 291.8L205.7 288.0L203.8 282.3L206.6 276.6L207.6 270.8L203.8 267.0L209.5 268.0L215.2 267.0L220.0 268.9" fill="none" stroke="#4a2a26" stroke-opacity="0.65" stroke-width="0.9" stroke-linejoin="round" stroke-linecap="round"/>
<polygon points="230.1,224.9 235.9,223.0 241.6,221.1 247.3,221.1 252.1,221.1 256.9,229.7 261.7,239.2 266.4,248.8 271.2,258.3 275.0,266.0 272.2,269.8 268.3,267.9 264.5,269.8 261.7,273.6 257.8,276.5 253.1,277.5 247.3,275.5 243.5,272.7 240.6,267.9 238.7,262.2 237.8,256.4 236.8,250.7 233.9,246.9 229.2,245.9 225.4,243.1 224.4,239.2 227.3,235.4 229.2,230.6 228.2,227.8" fill="#57160c" stroke="#4a2a26" stroke-opacity="0.65" stroke-width="0.9" stroke-linejoin="round" stroke-linecap="round"/>
<polygon points="275.0,266.0 277.9,271.7 278.3,279.4 280.8,286.1 277.9,288.0 272.2,288.0 268.3,289.9 265.5,288.9 260.7,288.9 255.9,288.0 254.0,283.2 255.0,279.4 253.1,277.5 257.8,276.5 261.7,273.6 264.5,269.8 268.3,267.9 272.2,269.8" fill="#cc301a" stroke="#4a2a26" stroke-opacity="0.65" stroke-width="0.9" stroke-linejoin="round" stroke-linecap="round"/>
<polygon points="231.1,264.1 235.9,262.2 238.7,262.2 240.6,267.9 243.5,272.7 247.3,275.5 253.1,277.5 255.0,279.4 254.0,283.2 255.9,288.0 253.1,290.8 250.2,294.6 247.3,299.4 244.5,304.2 241.6,309.9 237.8,311.8 233.9,309.9 231.1,306.1 226.3,304.2 221.5,304.2 216.8,303.2 212.9,300.4 211.0,295.6 214.8,292.7 220.6,290.8 224.4,287.0 225.4,281.3 226.3,275.5 227.3,269.8 227.3,266.0" fill="#a12917" stroke="#4a2a26" stroke-opacity="0.65" stroke-width="0.9" stroke-linejoin="round" stroke-linecap="round"/>
<polygon points="207.2,266.0 212.9,267.9 218.7,266.9 224.4,265.0 227.3,266.0 227.3,269.8 226.3,275.5 225.4,281.3 224.4,287.0 220.6,290.8 214.8,292.7 209.1,291.8 206.2,288.0 204.3,283.2 206.2,277.5 208.2,271.7" fill="#f9d8d4" stroke="#4a2a26" stroke-opacity="0.65" stroke-width="0.9" stroke-linejoin="round" stroke-linecap="round"/>
<polygon points="255.9,288.0 260.7,288.9 265.5,288.9 268.3,289.9 272.2,288.0 277.9,288.0 280.8,286.1 285.5,292.7 283.6,296.6 279.8,302.3 277.9,306.1 281.7,309.9 284.6,313.8 283.6,319.5 282.7,325.2 283.6,330.0 221.5,330.0 220.6,325.2 222.5,321.4 226.3,317.6 231.1,313.8 237.8,311.8 241.6,309.9 244.5,304.2 247.3,299.4 250.2,294.6 253.1,290.8" fill="#7f2110"/>
<path d="M221.5 330.0L220.6 325.2L222.5 321.4L226.3 317.6L231.1 313.8L237.8 311.8L241.6 309.9L244.5 304.2L247.3 299.4L250.2 294.6L253.1 290.8L255.9 288.0L260.7 288.9L265.5 288.9L268.3 289.9L272.2 288.0L277.9 288.0L280.8 286.1L285.5 292.7L283.6 296.6L279.8 302.3L277.9 306.1L281.7 309.9L284.6 313.8L283.6 319.5L282.7 325.2L283.6 330.0" fill="none" stroke="#4a2a26" stroke-opacity="0.65" stroke-width="0.9" stroke-linejoin="round" stroke-linecap="round"/>
<polygon points="285.5,292.7 291.3,298.5 297.0,304.2 304.6,311.8 312.3,320.4 320.9,330.0 283.6,330.0 282.7,325.2 283.6,319.5 284.6,313.8 281.7,309.9 277.9,306.1 279.8,302.3 283.6,296.6" fill="#cc301a"/>
<path d="M283.6 330.0L282.7 325.2L283.6 319.5L284.6 313.8L281.7 309.9L277.9 306.1L279.8 302.3L283.6 296.6L285.5 292.7L291.3 298.5L297.0 304.2L304.6 311.8L312.3 320.4L320.9 330.0" fill="none" stroke="#4a2a26" stroke-opacity="0.65" stroke-width="0.9" stroke-linejoin="round" stroke-linecap="round"/>
<polygon points="209.1,318.5 214.8,321.4 220.6,325.2 221.5,330.0 204.3,330.0 206.2,324.3" fill="#f3a89c"/>
<path d="M204.3 330.0L206.2 324.3L209.1 318.5L214.8 321.4L220.6 325.2L221.5 330.0" fill="none" stroke="#4a2a26" stroke-opacity="0.65" stroke-width="0.9" stroke-linejoin="round" stroke-linecap="round"/>
<polygon points="110.1,269.6 113.9,265.8 119.6,263.9 125.4,264.8 128.2,269.6 131.1,273.4 136.8,273.4 139.7,275.4 143.5,278.2 147.3,281.1 152.1,280.1 155.9,284.9 156.9,291.6 155.9,297.3 152.1,301.1 148.3,305.9 144.5,310.7 139.7,313.6 135.9,315.5 133.0,320.3 129.2,325.0 124.4,326.9 118.7,328.9 113.9,327.9 114.8,322.2 116.8,316.4 114.8,311.7 117.7,306.9 119.6,301.1 121.5,296.4 124.4,291.6 125.4,288.7 118.7,285.9 114.8,283.0 111.0,284.9 106.2,287.8 102.4,290.6 98.6,291.6 97.6,287.8 100.5,283.0 105.3,281.1 109.1,279.2 110.1,275.4" fill="#f9d8d4" stroke="#4a2a26" stroke-opacity="0.65" stroke-width="0.9" stroke-linejoin="round" stroke-linecap="round"/>
<polygon points="114.8,285.9 118.7,285.9 125.4,288.7 124.4,291.6 121.5,296.4 119.6,301.1 117.7,306.9 114.8,311.7 116.8,316.4 114.8,322.2 113.9,327.9 118.7,328.9 116.8,332.7 112.9,336.5 108.2,338.4 101.5,336.5 99.6,331.7 98.6,326.0 95.7,321.2 91.9,316.4 95.7,313.6 100.5,311.7 101.5,305.9 102.4,302.1 106.2,299.2 107.2,294.5 110.1,290.6" fill="#e96b55" stroke="#4a2a26" stroke-opacity="0.65" stroke-width="0.9" stroke-linejoin="round" stroke-linecap="round"/>
<polygon points="136.8,259.1 141.6,257.2 147.3,258.2 153.1,261.0 155.9,263.9 155.0,268.7 155.9,273.4 157.8,277.3 155.9,284.9 152.1,280.1 147.3,281.1 143.5,278.2 139.7,275.4 138.7,271.5 136.8,267.7 135.5,262.9" fill="#f3a89c" stroke="#4a2a26" stroke-opacity="0.65" stroke-width="0.9" stroke-linejoin="round" stroke-linecap="round"/>
<polygon points="155.9,263.9 160.7,261.0 166.4,259.1 172.2,260.1 176.9,262.9 180.8,266.8 181.7,271.5 183.6,277.3 182.7,283.0 184.6,289.7 185.5,295.4 183.6,299.2 179.8,303.1 176.0,306.9 174.1,310.7 171.2,309.7 169.3,305.0 168.3,299.2 165.5,294.5 161.7,289.7 159.7,294.5 156.9,297.3 155.9,297.3 156.9,291.6 155.9,284.9 157.8,277.3 155.9,273.4 155.0,268.7" fill="#e96b55" stroke="#4a2a26" stroke-opacity="0.65" stroke-width="0.9" stroke-linejoin="round" stroke-linecap="round"/>
<polygon points="212.3,268.7 218.0,266.8 223.8,265.8 227.6,268.7 226.6,274.4 225.7,280.1 223.8,285.9 219.9,288.7 216.1,291.6 210.4,293.1 206.6,291.6 204.6,285.9 204.6,280.1 206.6,274.4 209.4,270.6" fill="#f9d8d4" stroke="#4a2a26" stroke-opacity="0.65" stroke-width="0.9" stroke-linejoin="round" stroke-linecap="round"/>
<polygon points="240.0,312.6 240.0,329.8 235.2,331.7 229.5,332.7 223.8,331.7 219.9,328.9 220.9,323.1 223.8,319.3 227.6,316.4 232.4,314.5" fill="#7f2110"/>
<path d="M240.0 329.8L235.2 331.7L229.5 332.7L223.8 331.7L219.9 328.9L220.9 323.1L223.8 319.3L227.6 316.4L232.4 314.5L240.0 312.6" fill="none" stroke="#4a2a26" stroke-opacity="0.65" stroke-width="0.9" stroke-linejoin="round" stroke-linecap="round"/>
<polygon points="208.5,319.3 212.3,320.3 216.1,325.0 219.9,328.9 223.8,331.7 226.6,335.5 228.5,341.3 227.6,346.1 230.4,348.9 227.6,352.7 223.8,351.8 220.9,348.9 218.0,344.1 215.2,340.3 216.1,336.5 212.3,333.6 208.5,330.8 204.6,327.9 205.6,323.1" fill="#f3a89c" stroke="#4a2a26" stroke-opacity="0.65" stroke-width="0.9" stroke-linejoin="round" stroke-linecap="round"/>
<polygon points="226.6,335.5 229.5,332.7 235.2,331.7 240.0,329.8 240.0,344.1 235.2,344.1 231.4,343.2 228.5,341.3" fill="#e96b55"/>
<path d="M240.0 344.1L235.2 344.1L231.4 343.2L228.5 341.3L226.6 335.5L229.5 332.7L235.2 331.7L240.0 329.8" fill="none" stroke="#4a2a26" stroke-opacity="0.65" stroke-width="0.9" stroke-linejoin="round" stroke-linecap="round"/>
<polygon points="215.2,340.3 218.0,344.1 220.9,348.9 223.8,351.8 227.6,352.7 230.4,348.9 233.3,347.0 237.1,348.0 240.0,347.0 240.0,362.3 238.1,366.1 235.2,369.9 231.4,371.8 228.5,368.0 226.6,362.3 223.8,358.5 219.9,359.4 215.2,358.5 210.4,356.6 208.5,352.7 209.4,348.0 206.6,345.1 209.4,342.2 212.3,341.3" fill="#f9d8d4"/>
<path d="M240.0 362.3L238.1 366.1L235.2 369.9L231.4 371.8L228.5 368.0L226.6 362.3L223.8 358.5L219.9 359.4L215.2 358.5L210.4 356.6L208.5 352.7L209.4 348.0L206.6 345.1L209.4 342.2L212.3 341.3L215.2 340.3L218.0 344.1L220.9 348.9L223.8 351.8L227.6 352.7L230.4 348.9L233.3 347.0L237.1 348.0L240.0 347.0" fill="none" stroke="#4a2a26" stroke-opacity="0.65" stroke-width="0.9" stroke-linejoin="round" stroke-linecap="round"/>
<polygon points="241.1,270.0 263.1,270.0 260.2,274.8 255.4,277.3 249.7,276.7 244.9,274.8" fill="#57160c"/>
<path d="M263.1 270.0L260.2 274.8L255.4 277.3L249.7 276.7L244.9 274.8L241.1 270.0" fill="none" stroke="#4a2a26" stroke-opacity="0.65" stroke-width="0.9" stroke-linejoin="round" stroke-linecap="round"/>
<polygon points="263.1,270.0 276.4,270.0 278.3,277.6 280.3,285.3 276.4,287.2 270.7,288.2 266.9,289.1 261.1,288.2 256.4,289.1 253.5,285.3 251.6,281.5 250.6,277.6 255.4,277.3 260.2,274.8" fill="#cc301a"/>
<path d="M276.4 270.0L278.3 277.6L280.3 285.3L276.4 287.2L270.7 288.2L266.9 289.1L261.1 288.2L256.4 289.1L253.5 285.3L251.6 281.5L250.6 277.6L255.4 277.3L260.2 274.8L263.1 270.0" fill="none" stroke="#4a2a26" stroke-opacity="0.65" stroke-width="0.9" stroke-linejoin="round" stroke-linecap="round"/>
<polygon points="225.8,270.0 241.1,270.0 244.9,274.8 249.7,276.7 250.6,277.6 251.6,281.5 253.5,285.3 254.5,289.1 251.6,292.9 248.7,296.8 245.9,300.6 243.0,304.4 241.1,308.2 238.2,311.1 234.4,310.1 231.5,307.3 228.7,304.4 224.8,301.5 221.0,302.5 217.2,304.4 213.4,301.5 211.5,296.8 214.3,292.9 219.1,291.0 222.9,288.2 224.8,281.5 225.8,275.7" fill="#a12917"/>
<path d="M241.1 270.0L244.9 274.8L249.7 276.7L250.6 277.6L251.6 281.5L253.5 285.3L254.5 289.1L251.6 292.9L248.7 296.8L245.9 300.6L243.0 304.4L241.1 308.2L238.2 311.1L234.4 310.1L231.5 307.3L228.7 304.4L224.8 301.5L221.0 302.5L217.2 304.4L213.4 301.5L211.5 296.8L214.3 292.9L219.1 291.0L222.9 288.2L224.8 281.5L225.8 275.7L225.8 270.0" fill="none" stroke="#4a2a26" stroke-opacity="0.65" stroke-width="0.9" stroke-linejoin="round" stroke-linecap="round"/>
<polygon points="207.6,270.0 225.8,270.0 225.8,275.7 224.8,281.5 222.9,288.2 219.1,291.0 214.3,292.9 209.6,292.0 205.7,289.1 203.8,283.4 205.7,277.6" fill="#f9d8d4"/>
<path d="M225.8 270.0L225.8 275.7L224.8 281.5L222.9 288.2L219.1 291.0L214.3 292.9L209.6 292.0L205.7 289.1L203.8 283.4L205.7 277.6L207.6 270.0" fill="none" stroke="#4a2a26" stroke-opacity="0.65" stroke-width="0.9" stroke-linejoin="round" stroke-linecap="round"/>
<polygon points="254.5,289.1 256.4,289.1 261.1,288.2 266.9,289.1 270.7,288.2 276.4,287.2 280.3,285.3 285.0,292.0 282.2,296.8 278.3,302.5 280.3,307.3 284.1,311.1 283.1,315.9 282.2,320.6 285.0,325.4 287.9,331.1 289.8,335.9 293.6,339.7 291.7,343.6 289.8,348.3 288.9,354.1 287.9,358.9 282.2,356.0 276.4,354.1 270.7,352.2 265.0,350.3 259.2,348.3 256.4,344.5 254.5,340.7 251.6,336.9 247.8,335.0 243.0,333.1 239.2,331.1 241.1,327.3 243.9,323.5 246.8,317.8 248.7,313.9 250.6,312.0 251.6,308.2 249.7,302.5 247.8,298.7 248.7,296.8 251.6,292.9" fill="#7f2110" stroke="#4a2a26" stroke-opacity="0.65" stroke-width="0.9" stroke-linejoin="round" stroke-linecap="round"/>
<polygon points="228.7,313.9 234.4,313.0 238.2,311.1 241.1,308.2 244.9,311.1 250.6,312.0 248.7,313.9 246.8,317.8 243.9,323.5 241.1,327.3 239.2,331.1 234.4,331.1 229.6,332.1 224.8,331.1 221.0,327.3 220.1,322.5 222.9,319.7 226.8,317.8" fill="#7f2110" stroke="#4a2a26" stroke-opacity="0.65" stroke-width="0.9" stroke-linejoin="round" stroke-linecap="round"/>
<polygon points="285.0,292.0 291.7,298.7 299.4,306.3 307.0,313.9 314.6,322.5 322.3,331.1 329.9,339.7 337.6,347.4 333.8,350.3 329.0,354.1 324.2,356.9 320.4,359.8 314.6,358.9 310.8,356.0 308.9,352.2 306.1,346.4 304.1,342.6 299.4,341.7 293.6,339.7 289.8,335.9 287.9,331.1 285.0,325.4 282.2,320.6 283.1,315.9 284.1,311.1 280.3,307.3 278.3,302.5 282.2,296.8" fill="#cc301a" stroke="#4a2a26" stroke-opacity="0.65" stroke-width="0.9" stroke-linejoin="round" stroke-linecap="round"/>
<polygon points="293.6,339.7 299.4,341.7 304.1,342.6 306.1,346.4 308.9,352.2 310.8,356.0 312.7,361.7 311.8,369.4 312.7,377.0 314.6,383.7 309.9,384.6 305.1,380.8 302.2,376.1 299.4,371.3 295.5,367.5 291.7,363.6 288.9,359.8 287.9,358.9 288.9,354.1 289.8,348.3 291.7,343.6" fill="#a12917" stroke="#4a2a26" stroke-opacity="0.65" stroke-width="0.9" stroke-linejoin="round" stroke-linecap="round"/>
<polygon points="310.8,356.0 314.6,358.9 320.4,359.8 322.3,365.5 326.1,371.3 329.9,376.1 335.7,378.9 340.4,378.0 341.4,382.7 337.6,388.5 334.7,394.2 331.8,399.9 329.9,405.7 327.1,411.4 323.2,407.6 320.4,401.8 317.5,396.1 315.6,390.4 314.6,383.7 312.7,377.0 311.8,369.4 312.7,361.7" fill="#a12917" stroke="#4a2a26" stroke-opacity="0.65" stroke-width="0.9" stroke-linejoin="round" stroke-linecap="round"/>
<polygon points="337.6,347.4 345.2,355.0 350.0,361.7 348.1,367.5 345.2,373.2 340.4,378.0 335.7,378.9 329.9,376.1 326.1,371.3 322.3,365.5 320.4,359.8 324.2,356.9 329.0,354.1 333.8,350.3" fill="#f3a89c" stroke="#4a2a26" stroke-opacity="0.65" stroke-width="0.9" stroke-linejoin="round" stroke-linecap="round"/>
<polygon points="350.0,361.7 350.0,378.9 345.2,381.8 341.4,382.7 340.4,378.0 345.2,373.2 348.1,367.5" fill="#cc301a"/>
<path d="M350.0 378.9L345.2 381.8L341.4 382.7L340.4 378.0L345.2 373.2L348.1 367.5L350.0 361.7" fill="none" stroke="#4a2a26" stroke-opacity="0.65" stroke-width="0.9" stroke-linejoin="round" stroke-linecap="round"/>
<polygon points="341.4,382.7 345.2,381.8 350.0,382.7 350.0,392.3 344.3,392.3 339.5,389.4 337.6,388.5" fill="#f9d8d4"/>
<path d="M350.0 392.3L344.3 392.3L339.5 389.4L337.6 388.5L341.4 382.7L345.2 381.8L350.0 382.7" fill="none" stroke="#4a2a26" stroke-opacity="0.65" stroke-width="0.9" stroke-linejoin="round" stroke-linecap="round"/>
<polygon points="334.7,394.2 339.5,392.3 345.2,392.3 348.1,394.2 346.2,399.9 343.3,404.7 339.5,407.6 334.7,408.5 331.8,403.8 331.8,399.9" fill="#ebebeb" stroke="#4a2a26" stroke-opacity="0.65" stroke-width="0.9" stroke-linejoin="round" stroke-linecap="round"/>
<polygon points="204.8,327.3 207.6,321.6 210.5,318.7 214.3,321.6 218.2,325.4 220.1,322.5 221.0,327.3 224.8,331.1 229.6,332.1 228.7,336.9 227.7,341.7 224.8,345.5 222.9,349.3 220.1,346.4 218.2,340.7 216.2,335.9 211.5,333.1 207.6,331.1" fill="#f3a89c" stroke="#4a2a26" stroke-opacity="0.65" stroke-width="0.9" stroke-linejoin="round" stroke-linecap="round"/>
<polygon points="229.6,332.1 234.4,331.1 239.2,331.1 243.0,333.1 247.8,335.0 251.6,336.9 254.5,340.7 256.4,344.5 255.4,347.4 251.6,346.4 247.8,347.4 245.9,351.2 244.9,356.0 241.1,358.9 238.2,354.1 237.3,349.3 233.4,346.4 230.6,344.5 227.7,341.7 228.7,336.9" fill="#e96b55" stroke="#4a2a26" stroke-opacity="0.65" stroke-width="0.9" stroke-linejoin="round" stroke-linecap="round"/>
<polygon points="205.7,344.5 211.5,342.6 216.2,335.9 218.2,340.7 220.1,346.4 222.9,349.3 224.8,345.5 227.7,341.7 230.6,344.5 233.4,346.4 237.3,349.3 238.2,354.1 241.1,358.9 239.2,361.7 236.3,365.5 232.5,370.3 228.7,371.3 226.8,366.5 226.8,361.7 222.9,358.9 218.2,359.8 212.4,358.9 208.6,356.0 209.6,351.2 206.7,348.3" fill="#f9d8d4" stroke="#4a2a26" stroke-opacity="0.65" stroke-width="0.9" stroke-linejoin="round" stroke-linecap="round"/>
<polygon points="288.9,359.8 291.7,363.6 295.5,367.5 299.4,371.3 295.5,374.1 291.7,377.0 287.9,379.9 284.1,382.7 280.3,386.6 277.4,390.4 274.5,389.4 273.6,385.6 276.4,381.8 280.3,378.0 281.2,373.2 284.1,368.4 286.9,364.6" fill="#a12917" stroke="#4a2a26" stroke-opacity="0.65" stroke-width="0.9" stroke-linejoin="round" stroke-linecap="round"/>
<polygon points="299.4,371.3 302.2,376.1 305.1,380.8 309.9,384.6 314.6,383.7 315.6,390.4 314.6,396.1 310.8,399.9 305.1,401.8 299.4,403.8 293.6,406.6 289.8,410.4 285.0,414.3 280.3,412.4 277.4,407.6 275.5,401.8 276.4,396.1 277.4,390.4 280.3,386.6 284.1,382.7 287.9,379.9 291.7,377.0 295.5,374.1" fill="#e96b55" stroke="#4a2a26" stroke-opacity="0.65" stroke-width="0.9" stroke-linejoin="round" stroke-linecap="round"/>
<polygon points="274.5,389.4 277.4,390.4 276.4,396.1 275.5,401.8 277.4,407.6 276.4,413.3 273.6,420.0 266.9,420.0 267.8,411.4 268.8,403.8 269.7,396.1 271.7,392.3" fill="#f3a89c"/>
<path d="M266.9 420.0L267.8 411.4L268.8 403.8L269.7 396.1L271.7 392.3L274.5 389.4L277.4 390.4L276.4 396.1L275.5 401.8L277.4 407.6L276.4 413.3L273.6 420.0" fill="none" stroke="#4a2a26" stroke-opacity="0.65" stroke-width="0.9" stroke-linejoin="round" stroke-linecap="round"/>
<polygon points="314.6,396.1 317.5,396.1 316.6,401.8 313.7,407.6 309.9,411.4 304.1,414.3 299.4,417.1 293.6,420.0 273.6,420.0 276.4,413.3 277.4,407.6 280.3,412.4 285.0,414.3 289.8,410.4 293.6,406.6 299.4,403.8 305.1,401.8 310.8,399.9" fill="#cc301a"/>
<path d="M273.6 420.0L276.4 413.3L277.4 407.6L280.3 412.4L285.0 414.3L289.8 410.4L293.6 406.6L299.4 403.8L305.1 401.8L310.8 399.9L314.6 396.1L317.5 396.1L316.6 401.8L313.7 407.6L309.9 411.4L304.1 414.3L299.4 417.1L293.6 420.0" fill="none" stroke="#4a2a26" stroke-opacity="0.65" stroke-width="0.9" stroke-linejoin="round" stroke-linecap="round"/>
<polygon points="317.5,396.1 320.4,401.8 323.2,407.6 324.2,412.4 320.4,414.3 315.6,412.4 313.7,407.6 316.6,401.8" fill="#f9d8d4" stroke="#4a2a26" stroke-opacity="0.65" stroke-width="0.9" stroke-linejoin="round" stroke-linecap="round"/>
<polygon points="327.1,411.4 329.9,405.7 334.7,408.5 339.5,407.6 343.3,410.4 347.1,415.2 350.0,420.0 326.1,420.0" fill="#f3a89c"/>
<path d="M326.1 420.0L327.1 411.4L329.9 405.7L334.7 408.5L339.5 407.6L343.3 410.4L347.1 415.2L350.0 420.0" fill="none" stroke="#4a2a26" stroke-opacity="0.65" stroke-width="0.9" stroke-linejoin="round" stroke-linecap="round"/>
<polygon points="324.1,370.0 347.0,370.0 344.1,374.8 339.4,377.6 333.6,378.0 328.9,375.7" fill="#f3a89c"/>
<path d="M347.0 370.0L344.1 374.8L339.4 377.6L333.6 378.0L328.9 375.7L324.1 370.0" fill="none" stroke="#4a2a26" stroke-opacity="0.65" stroke-width="0.9" stroke-linejoin="round" stroke-linecap="round"/>
<polygon points="347.0,370.0 362.3,370.0 366.1,377.6 371.8,387.2 369.9,394.8 368.0,400.6 364.2,398.7 360.4,394.8 357.5,389.1 356.6,383.4 354.6,379.6 349.9,379.6 344.1,381.5 341.3,378.6 344.1,374.8" fill="#cc301a"/>
<path d="M362.3 370.0L366.1 377.6L371.8 387.2L369.9 394.8L368.0 400.6L364.2 398.7L360.4 394.8L357.5 389.1L356.6 383.4L354.6 379.6L349.9 379.6L344.1 381.5L341.3 378.6L344.1 374.8L347.0 370.0" fill="none" stroke="#4a2a26" stroke-opacity="0.65" stroke-width="0.9" stroke-linejoin="round" stroke-linecap="round"/>
<polygon points="371.8,387.2 377.6,394.8 383.3,401.5 387.1,408.2 390.0,415.9 390.0,417.8 385.2,416.8 380.4,418.7 376.6,422.5 373.8,427.3 369.9,431.1 364.2,434.0 359.4,436.9 354.6,439.7 350.8,440.7 347.0,437.8 345.1,434.0 347.0,428.3 349.9,423.5 353.7,418.7 355.6,414.9 358.5,412.0 363.2,409.2 367.1,405.4 368.0,400.6 369.9,394.8" fill="#e96b55"/>
<path d="M390.0 417.8L385.2 416.8L380.4 418.7L376.6 422.5L373.8 427.3L369.9 431.1L364.2 434.0L359.4 436.9L354.6 439.7L350.8 440.7L347.0 437.8L345.1 434.0L347.0 428.3L349.9 423.5L353.7 418.7L355.6 414.9L358.5 412.0L363.2 409.2L367.1 405.4L368.0 400.6L369.9 394.8L371.8 387.2L377.6 394.8L383.3 401.5L387.1 408.2L390.0 415.9" fill="none" stroke="#4a2a26" stroke-opacity="0.65" stroke-width="0.9" stroke-linejoin="round" stroke-linecap="round"/>
<polygon points="344.1,381.5 349.9,379.6 354.6,379.6 356.6,383.4 357.5,389.1 354.6,393.9 350.8,396.8 347.0,393.9 343.2,392.0 339.4,390.1 336.5,389.1 338.4,384.3" fill="#f9d8d4" stroke="#4a2a26" stroke-opacity="0.65" stroke-width="0.9" stroke-linejoin="round" stroke-linecap="round"/>
<polygon points="339.4,392.0 344.1,392.0 347.0,393.9 348.0,398.7 345.1,403.4 342.2,407.3 337.5,408.2 333.6,407.3 331.7,405.4 332.7,400.6 334.6,394.8" fill="#ebebeb" stroke="#4a2a26" stroke-opacity="0.65" stroke-width="0.9" stroke-linejoin="round" stroke-linecap="round"/>
<polygon points="350.8,396.8 354.6,393.9 360.4,394.8 364.2,398.7 368.0,400.6 367.1,405.4 363.2,409.2 358.5,412.0 355.6,414.9 351.8,413.9 348.9,411.1 346.1,408.2 345.1,403.4 348.0,398.7" fill="#f3a89c" stroke="#4a2a26" stroke-opacity="0.65" stroke-width="0.9" stroke-linejoin="round" stroke-linecap="round"/>
<polygon points="331.7,410.1 337.5,408.2 346.1,408.2 351.8,413.9 354.6,416.8 350.8,419.7 346.1,418.7 341.3,417.8 336.5,418.7 333.6,415.9" fill="#f3a89c" stroke="#4a2a26" stroke-opacity="0.65" stroke-width="0.9" stroke-linejoin="round" stroke-linecap="round"/>
<polygon points="336.5,418.7 341.3,417.8 346.1,418.7 347.0,423.5 346.1,428.3 344.1,433.1 340.3,435.9 337.5,433.1 335.5,428.3 334.6,423.5" fill="#f9d8d4" stroke="#4a2a26" stroke-opacity="0.65" stroke-width="0.9" stroke-linejoin="round" stroke-linecap="round"/>
<polygon points="280.1,370.0 297.3,370.0 295.4,374.8 291.6,378.6 287.8,381.5 283.9,384.3 280.1,387.2 277.3,390.1 274.4,389.1 273.4,386.2 275.4,381.5 278.2,375.7" fill="#a12917"/>
<path d="M297.3 370.0L295.4 374.8L291.6 378.6L287.8 381.5L283.9 384.3L280.1 387.2L277.3 390.1L274.4 389.1L273.4 386.2L275.4 381.5L278.2 375.7L280.1 370.0" fill="none" stroke="#4a2a26" stroke-opacity="0.65" stroke-width="0.9" stroke-linejoin="round" stroke-linecap="round"/>
<polygon points="295.4,374.8 299.2,375.7 303.1,379.6 305.9,382.4 309.7,384.3 313.6,385.3 314.5,391.0 313.6,396.8 308.8,398.7 303.1,400.6 297.3,402.5 292.5,405.4 287.8,408.2 283.9,411.1 281.1,414.9 278.2,412.0 276.3,407.3 275.4,401.5 276.3,395.8 278.2,391.0 280.1,387.2 283.9,384.3 287.8,381.5 291.6,378.6" fill="#e96b55" stroke="#4a2a26" stroke-opacity="0.65" stroke-width="0.9" stroke-linejoin="round" stroke-linecap="round"/>
<polygon points="273.4,388.2 277.3,390.1 278.2,391.0 276.3,395.8 275.4,401.5 276.3,407.3 278.2,412.0 277.3,415.9 274.4,414.9 273.4,419.7 272.5,425.4 270.6,429.2 268.7,433.1 264.8,430.2 268.7,425.4 266.8,417.8 267.7,408.2 268.7,400.6 270.6,392.9" fill="#f3a89c" stroke="#4a2a26" stroke-opacity="0.65" stroke-width="0.9" stroke-linejoin="round" stroke-linecap="round"/>
<polygon points="313.6,396.8 315.5,401.5 313.6,405.4 309.7,407.3 305.0,409.2 301.1,411.1 297.3,413.0 292.5,414.9 288.7,416.8 284.9,417.8 282.0,415.9 281.1,414.9 283.9,411.1 287.8,408.2 292.5,405.4 297.3,402.5 303.1,400.6 308.8,398.7" fill="#cc301a" stroke="#4a2a26" stroke-opacity="0.65" stroke-width="0.9" stroke-linejoin="round" stroke-linecap="round"/>
<polygon points="274.4,414.9 277.3,415.9 281.1,414.9 284.9,417.8 287.8,422.5 289.7,427.3 287.8,431.1 283.0,432.1 278.2,433.1 274.4,431.1 272.5,425.4 273.4,419.7" fill="#cc301a" stroke="#4a2a26" stroke-opacity="0.65" stroke-width="0.9" stroke-linejoin="round" stroke-linecap="round"/>
<polygon points="313.6,396.8 315.5,401.5 317.4,398.7 321.2,400.6 324.1,405.4 326.0,410.1 323.1,413.0 319.3,413.9 316.4,411.1 313.6,405.4" fill="#f9d8d4" stroke="#4a2a26" stroke-opacity="0.65" stroke-width="0.9" stroke-linejoin="round" stroke-linecap="round"/>
<polygon points="288.7,416.8 292.5,415.9 295.4,417.8 294.5,422.5 291.6,426.4 288.7,429.2 285.9,427.3 284.9,423.5 286.8,419.7" fill="#ebebeb" stroke="#4a2a26" stroke-opacity="0.65" stroke-width="0.9" stroke-linejoin="round" stroke-linecap="round"/>
<polygon points="292.5,414.9 297.3,413.0 301.1,411.1 305.0,413.0 306.9,417.8 305.9,423.5 304.0,428.3 301.1,431.1 297.3,430.2 294.5,427.3 291.6,426.4 294.5,422.5 295.4,417.8" fill="#f9d8d4" stroke="#4a2a26" stroke-opacity="0.65" stroke-width="0.9" stroke-linejoin="round" stroke-linecap="round"/>
<polygon points="305.0,409.2 309.7,407.3 313.6,412.0 315.5,416.8 314.5,422.5 313.6,427.3 311.7,433.1 307.8,435.0 305.9,431.1 304.0,428.3 305.9,423.5 306.9,417.8 305.0,413.0" fill="#f3a89c" stroke="#4a2a26" stroke-opacity="0.65" stroke-width="0.9" stroke-linejoin="round" stroke-linecap="round"/>
<polygon points="316.4,411.1 319.3,413.9 323.1,413.0 326.0,410.1 328.9,411.1 331.7,413.0 333.6,415.9 331.7,419.7 328.9,422.5 326.0,425.4 322.2,426.4 318.3,424.5 315.5,420.6 315.5,416.8 313.6,412.0" fill="#f9d8d4" stroke="#4a2a26" stroke-opacity="0.65" stroke-width="0.9" stroke-linejoin="round" stroke-linecap="round"/>
<polygon points="288.7,429.2 291.6,426.4 294.5,427.3 297.3,430.2 301.1,431.1 305.0,433.1 304.0,436.9 301.1,439.7 298.3,442.6 294.5,440.7 291.6,436.9 289.3,433.1" fill="#e96b55" stroke="#4a2a26" stroke-opacity="0.65" stroke-width="0.9" stroke-linejoin="round" stroke-linecap="round"/>
<polygon points="305.0,433.1 307.8,435.0 311.7,434.0 312.6,438.8 310.7,443.6 308.8,447.4 305.0,449.3 301.1,447.4 298.3,442.6 301.1,439.7 304.0,436.9" fill="#f3a89c" stroke="#4a2a26" stroke-opacity="0.65" stroke-width="0.9" stroke-linejoin="round" stroke-linecap="round"/>
<polygon points="314.5,422.5 318.3,424.5 322.2,426.4 326.0,425.4 328.9,422.5 333.6,424.5 337.5,428.3 339.4,433.1 337.5,436.9 334.6,438.8 329.8,437.8 326.0,438.8 321.2,439.7 317.4,442.6 314.5,445.5 311.7,443.6 312.6,438.8 311.7,434.0 313.6,427.3" fill="#cc301a" stroke="#4a2a26" stroke-opacity="0.65" stroke-width="0.9" stroke-linejoin="round" stroke-linecap="round"/>
<polygon points="253.4,435.9 261.0,434.0 268.7,435.0 274.4,435.9 281.1,435.0 286.8,435.9 290.6,438.8 293.5,443.6 295.4,448.3 292.5,451.2 287.8,453.1 283.0,455.0 278.2,456.0 275.4,458.9 277.3,463.6 280.1,469.4 271.5,468.4 263.9,469.4 259.1,464.6 258.2,460.8 261.0,455.0 256.2,452.2 254.3,446.4 252.4,440.7" fill="#7f2110" stroke="#4a2a26" stroke-opacity="0.65" stroke-width="0.9" stroke-linejoin="round" stroke-linecap="round"/>
<polygon points="268.7,433.1 270.6,429.2 274.4,431.1 278.2,433.1 281.1,435.0 274.4,435.9 268.7,435.0 263.9,434.0" fill="#f3a89c" stroke="#4a2a26" stroke-opacity="0.65" stroke-width="0.9" stroke-linejoin="round" stroke-linecap="round"/>
<polygon points="295.4,448.3 301.1,449.3 306.9,451.2 312.6,454.1 318.3,456.9 324.1,459.8 329.8,461.7 335.5,463.6 333.6,465.5 326.9,463.6 321.2,461.7 315.5,459.8 309.7,456.9 304.0,455.0 298.3,453.1 293.5,452.2" fill="#7f2110" stroke="#4a2a26" stroke-opacity="0.65" stroke-width="0.9" stroke-linejoin="round" stroke-linecap="round"/>
<polygon points="278.2,456.0 283.0,455.0 287.8,453.1 290.6,456.9 289.7,461.7 291.6,466.5 292.5,471.3 290.6,476.1 286.8,478.0 283.9,475.1 280.1,469.4 277.3,463.6 275.4,458.9" fill="#e96b55" stroke="#4a2a26" stroke-opacity="0.65" stroke-width="0.9" stroke-linejoin="round" stroke-linecap="round"/>
<polygon points="290.6,456.9 293.5,456.0 297.3,458.9 301.1,461.7 305.9,463.6 305.9,467.5 306.9,471.3 310.7,474.1 313.6,477.0 311.7,480.8 301.1,478.9 293.5,479.9 292.5,475.1 292.5,471.3 291.6,466.5 289.7,461.7" fill="#f9d8d4" stroke="#4a2a26" stroke-opacity="0.65" stroke-width="0.9" stroke-linejoin="round" stroke-linecap="round"/>
<polygon points="305.9,463.6 310.7,465.5 315.5,468.4 320.3,470.3 324.1,471.3 320.3,473.2 314.5,473.2 309.7,472.2 306.9,471.3 305.9,467.5" fill="#cc301a" stroke="#4a2a26" stroke-opacity="0.65" stroke-width="0.9" stroke-linejoin="round" stroke-linecap="round"/>
<polygon points="306.9,471.3 309.7,472.2 314.5,473.2 320.3,473.2 325.0,472.2 324.1,476.1 320.3,478.9 316.4,480.8 313.6,479.9 313.6,477.0 310.7,474.1" fill="#f3a89c" stroke="#4a2a26" stroke-opacity="0.65" stroke-width="0.9" stroke-linejoin="round" stroke-linecap="round"/>
<polygon points="337.5,466.5 343.2,465.5 348.9,467.5 354.6,469.4 360.4,470.3 366.1,471.3 369.9,473.2 366.1,477.0 361.3,479.9 356.6,482.7 351.8,484.6 347.0,487.5 342.2,490.4 339.4,492.3 343.2,493.2 348.9,493.2 352.7,495.2 349.9,498.0 344.1,498.4 337.5,498.0 331.7,497.1 326.9,495.2 322.2,494.2 317.4,492.3 313.6,489.4 311.7,489.4 313.6,484.6 311.7,480.8 316.4,480.8 320.3,478.9 324.1,476.1 325.0,472.2 324.1,471.3 326.0,469.4 331.7,468.4" fill="#f9d8d4" stroke="#4a2a26" stroke-opacity="0.65" stroke-width="0.9" stroke-linejoin="round" stroke-linecap="round"/>
<polygon points="339.4,492.3 347.0,493.2 354.6,492.3 362.3,494.2 369.9,496.1 377.6,497.1 381.4,499.9 377.6,502.8 371.8,503.8 370.9,507.6 364.2,508.5 356.6,508.5 348.9,507.6 341.3,505.7 335.5,503.8 329.8,501.8 326.0,499.0 324.1,496.1 326.9,495.2 331.7,497.1 337.5,498.0 344.1,498.4 349.9,498.0 352.7,495.2 348.9,493.2 343.2,493.2" fill="#f3a89c" stroke="#4a2a26" stroke-opacity="0.65" stroke-width="0.9" stroke-linejoin="round" stroke-linecap="round"/>
<polygon points="329.8,501.8 335.5,503.8 341.3,505.7 348.9,507.6 356.6,508.5 364.2,508.5 370.9,507.6 373.8,511.4 377.6,515.2 373.8,518.1 368.0,520.0 335.5,520.0 333.6,515.2 330.8,510.4 328.9,505.7" fill="#f9d8d4"/>
<path d="M335.5 520.0L333.6 515.2L330.8 510.4L328.9 505.7L329.8 501.8L335.5 503.8L341.3 505.7L348.9 507.6L356.6 508.5L364.2 508.5L370.9 507.6L373.8 511.4L377.6 515.2L373.8 518.1L368.0 520.0" fill="none" stroke="#4a2a26" stroke-opacity="0.65" stroke-width="0.9" stroke-linejoin="round" stroke-linecap="round"/>
<polygon points="307.8,492.3 311.7,489.4 313.6,489.4 317.4,492.3 322.2,494.2 324.1,496.1 326.0,499.0 329.8,501.8 328.9,505.7 325.0,507.6 320.3,508.5 315.5,507.6 310.7,506.6 307.8,502.8 305.9,499.9 305.0,495.2" fill="#cc301a" stroke="#4a2a26" stroke-opacity="0.65" stroke-width="0.9" stroke-linejoin="round" stroke-linecap="round"/>
<polygon points="284.9,500.9 291.6,499.9 299.2,499.0 305.9,499.9 307.8,502.8 310.7,506.6 308.8,510.4 305.9,514.3 302.1,517.1 297.3,520.0 277.3,520.0 278.2,511.4 281.1,505.7" fill="#f9d8d4"/>
<path d="M277.3 520.0L278.2 511.4L281.1 505.7L284.9 500.9L291.6 499.9L299.2 499.0L305.9 499.9L307.8 502.8L310.7 506.6L308.8 510.4L305.9 514.3L302.1 517.1L297.3 520.0" fill="none" stroke="#4a2a26" stroke-opacity="0.65" stroke-width="0.9" stroke-linejoin="round" stroke-linecap="round"/>
<polygon points="315.5,507.6 320.3,508.5 325.0,507.6 328.9,505.7 330.8,510.4 329.8,515.2 327.9,520.0 316.4,520.0 313.6,516.2 313.6,512.4" fill="#f3a89c"/>
<path d="M316.4 520.0L313.6 516.2L313.6 512.4L315.5 507.6L320.3 508.5L325.0 507.6L328.9 505.7L330.8 510.4L329.8 515.2L327.9 520.0" fill="none" stroke="#4a2a26" stroke-opacity="0.65" stroke-width="0.9" stroke-linejoin="round" stroke-linecap="round"/>
<polygon points="409.2,511.7 414.9,509.8 420.6,511.7 425.4,511.7 423.5,516.5 420.6,520.3 417.8,524.1 415.9,528.9 413.0,530.8 411.1,526.1 408.2,522.2 406.3,517.5 407.3,513.6" fill="#f3a89c" stroke="#4a2a26" stroke-opacity="0.65" stroke-width="0.9" stroke-linejoin="round" stroke-linecap="round"/>
<polygon points="381.5,532.7 387.2,530.8 392.9,528.9 398.7,527.0 404.4,524.1 408.2,525.1 411.1,526.1 413.0,530.8 416.8,532.7 420.6,534.6 424.5,536.6 422.5,540.4 417.8,542.3 413.0,544.2 408.2,546.1 402.5,548.0 396.8,549.9 392.0,553.8 388.2,551.8 386.2,546.1 383.4,540.4 380.5,536.6" fill="#cc301a" stroke="#4a2a26" stroke-opacity="0.65" stroke-width="0.9" stroke-linejoin="round" stroke-linecap="round"/>
<polygon points="452.2,547.1 456.9,546.1 461.7,548.0 465.5,551.8 467.8,556.6 467.5,562.4 465.5,567.1 463.6,570.0 446.4,570.0 444.5,565.2 445.5,559.5 447.4,553.8 449.3,549.9" fill="#f3a89c"/>
<path d="M446.4 570.0L444.5 565.2L445.5 559.5L447.4 553.8L449.3 549.9L452.2 547.1L456.9 546.1L461.7 548.0L465.5 551.8L467.8 556.6L467.5 562.4L465.5 567.1L463.6 570.0" fill="none" stroke="#4a2a26" stroke-opacity="0.65" stroke-width="0.9" stroke-linejoin="round" stroke-linecap="round"/>
<polygon points="490.4,561.4 496.1,558.5 503.8,557.6 509.5,560.4 511.4,565.2 510.4,570.0 489.4,570.0 488.5,567.1" fill="#cc301a"/>
<path d="M489.4 570.0L488.5 567.1L490.4 561.4L496.1 558.5L503.8 557.6L509.5 560.4L511.4 565.2L510.4 570.0" fill="none" stroke="#4a2a26" stroke-opacity="0.65" stroke-width="0.9" stroke-linejoin="round" stroke-linecap="round"/>
<polygon points="469.4,567.1 473.2,565.2 477.0,567.1 478.0,570.0 468.4,570.0" fill="#e96b55"/>
<path d="M468.4 570.0L469.4 567.1L473.2 565.2L477.0 567.1L478.0 570.0" fill="none" stroke="#4a2a26" stroke-opacity="0.65" stroke-width="0.9" stroke-linejoin="round" stroke-linecap="round"/>
<polygon points="370.0,496.4 375.7,496.4 379.6,498.3 377.6,501.2 371.9,502.2 370.0,502.2" fill="#f3a89c"/>
<path d="M370.0 496.4L375.7 496.4L379.6 498.3L377.6 501.2L371.9 502.2L370.0 502.2" fill="none" stroke="#4a2a26" stroke-opacity="0.65" stroke-width="0.9" stroke-linejoin="round" stroke-linecap="round"/>
<polygon points="370.0,514.6 375.7,513.6 381.5,512.7 383.4,516.5 380.5,520.3 375.7,523.2 370.0,525.1" fill="#f9d8d4"/>
<path d="M370.0 514.6L375.7 513.6L381.5 512.7L383.4 516.5L380.5 520.3L375.7 523.2L370.0 525.1" fill="none" stroke="#4a2a26" stroke-opacity="0.65" stroke-width="0.9" stroke-linejoin="round" stroke-linecap="round"/>
<polygon points="370.0,527.0 375.7,526.1 380.5,528.0 381.5,532.7 377.6,535.6 371.9,536.6 370.0,536.6" fill="#e96b55"/>
<path d="M370.0 527.0L375.7 526.1L380.5 528.0L381.5 532.7L377.6 535.6L371.9 536.6L370.0 536.6" fill="none" stroke="#4a2a26" stroke-opacity="0.65" stroke-width="0.9" stroke-linejoin="round" stroke-linecap="round"/>
<polygon points="370.0,539.4 375.7,537.5 381.5,539.4 386.2,544.2 387.2,549.9 383.4,552.8 375.7,553.8 370.0,553.8" fill="#e96b55"/>
<path d="M370.0 539.4L375.7 537.5L381.5 539.4L386.2 544.2L387.2 549.9L383.4 552.8L375.7 553.8L370.0 553.8" fill="none" stroke="#4a2a26" stroke-opacity="0.65" stroke-width="0.9" stroke-linejoin="round" stroke-linecap="round"/>
<polygon points="370.0,559.5 375.7,558.5 381.5,556.6 388.2,554.7 392.0,553.8 392.0,561.4 393.9,565.2 392.9,570.0 370.0,570.0" fill="#7f2110"/>
<path d="M370.0 559.5L375.7 558.5L381.5 556.6L388.2 554.7L392.0 553.8L392.0 561.4L393.9 565.2L392.9 570.0" fill="none" stroke="#4a2a26" stroke-opacity="0.65" stroke-width="0.9" stroke-linejoin="round" stroke-linecap="round"/>
<polygon points="308.3,490.0 334.1,490.0 332.2,493.8 326.4,495.7 320.7,494.8 315.0,492.9" fill="#f9d8d4"/>
<path d="M334.1 490.0L332.2 493.8L326.4 495.7L320.7 494.8L315.0 492.9L308.3 490.0" fill="none" stroke="#4a2a26" stroke-opacity="0.65" stroke-width="0.9" stroke-linejoin="round" stroke-linecap="round"/>
<polygon points="326.4,495.7 332.2,493.8 336.0,497.3 341.7,497.6 349.4,496.7 357.0,493.8 364.6,495.7 372.3,497.6 379.9,499.6 374.2,501.5 371.3,504.3 372.3,508.2 364.6,508.2 357.0,509.1 349.4,508.2 341.7,506.2 336.0,503.4 331.2,500.5" fill="#f3a89c" stroke="#4a2a26" stroke-opacity="0.65" stroke-width="0.9" stroke-linejoin="round" stroke-linecap="round"/>
<polygon points="331.2,502.4 336.0,503.4 341.7,506.2 349.4,508.2 357.0,509.1 364.6,508.2 372.3,508.2 370.4,511.0 364.6,512.9 358.9,515.8 353.2,516.8 347.5,516.8 341.7,517.7 336.0,516.8 332.2,512.9 329.3,508.2" fill="#f9d8d4" stroke="#4a2a26" stroke-opacity="0.65" stroke-width="0.9" stroke-linejoin="round" stroke-linecap="round"/>
<polygon points="364.6,512.9 370.4,511.0 374.2,512.0 379.9,512.9 383.8,515.8 381.8,520.6 377.1,524.4 372.3,525.4 368.5,522.5 365.6,518.7" fill="#f9d8d4" stroke="#4a2a26" stroke-opacity="0.65" stroke-width="0.9" stroke-linejoin="round" stroke-linecap="round"/>
<polygon points="341.7,517.7 347.5,516.8 353.2,516.8 358.9,515.8 364.6,512.9 365.6,518.7 368.5,522.5 372.3,525.4 377.1,524.4 379.9,527.3 381.8,531.1 379.0,534.9 379.9,539.7 383.8,542.5 386.6,547.3 385.7,551.1 379.9,553.1 372.3,553.4 364.6,553.1 358.9,551.1 357.0,546.4 358.0,541.6 353.2,541.6 350.3,537.8 347.5,533.0 344.6,527.3 341.7,522.5" fill="#e96b55" stroke="#4a2a26" stroke-opacity="0.65" stroke-width="0.9" stroke-linejoin="round" stroke-linecap="round"/>
<polygon points="308.3,490.0 315.0,492.9 320.7,494.8 326.4,495.7 331.2,500.5 329.3,505.3 326.4,508.2 320.7,509.1 315.0,507.2 311.1,503.4 307.3,499.6 306.4,494.8" fill="#cc301a" stroke="#4a2a26" stroke-opacity="0.65" stroke-width="0.9" stroke-linejoin="round" stroke-linecap="round"/>
<polygon points="286.3,499.6 293.9,498.6 301.6,498.6 306.4,501.5 307.3,506.2 303.5,509.1 299.7,512.0 295.9,514.8 292.0,516.8 288.2,518.7 284.4,517.7 280.6,518.7 276.8,516.8 278.7,509.1 282.5,504.3" fill="#f9d8d4" stroke="#4a2a26" stroke-opacity="0.65" stroke-width="0.9" stroke-linejoin="round" stroke-linecap="round"/>
<polygon points="307.3,506.2 311.1,509.1 312.1,513.9 313.1,518.7 310.2,522.5 307.3,525.4 303.5,527.3 299.7,525.4 295.9,522.5 292.0,519.6 288.2,518.7 292.0,516.8 295.9,514.8 299.7,512.0 303.5,509.1" fill="#cc301a" stroke="#4a2a26" stroke-opacity="0.65" stroke-width="0.9" stroke-linejoin="round" stroke-linecap="round"/>
<polygon points="276.8,516.8 280.6,518.7 284.4,517.7 288.2,518.7 292.0,519.6 295.9,522.5 297.8,526.3 296.8,530.1 293.0,529.2 288.2,528.2 284.4,527.3 280.6,527.3 278.7,528.2 275.8,523.4" fill="#f3a89c" stroke="#4a2a26" stroke-opacity="0.65" stroke-width="0.9" stroke-linejoin="round" stroke-linecap="round"/>
<polygon points="315.0,509.1 320.7,509.1 326.4,508.2 329.3,511.0 332.2,515.8 333.1,520.6 332.2,525.4 328.3,523.4 324.5,520.6 319.7,519.6 315.9,518.7 313.1,515.8 312.1,512.0" fill="#f3a89c" stroke="#4a2a26" stroke-opacity="0.65" stroke-width="0.9" stroke-linejoin="round" stroke-linecap="round"/>
<polygon points="329.3,508.2 332.2,512.9 336.0,516.8 338.9,519.6 334.1,520.6 332.2,515.8 329.3,511.0 327.4,509.1" fill="#f9d8d4" stroke="#4a2a26" stroke-opacity="0.65" stroke-width="0.9" stroke-linejoin="round" stroke-linecap="round"/>
<polygon points="280.6,528.2 285.4,527.3 290.1,528.2 294.9,530.1 297.8,532.0 300.6,535.9 303.5,533.0 307.3,530.1 310.2,529.2 312.1,533.9 315.0,537.8 316.9,541.6 317.8,547.3 316.9,552.1 314.0,555.0 309.2,554.0 304.5,552.1 300.6,551.1 296.8,554.0 292.0,555.9 287.3,555.0 284.4,551.1 282.5,546.4 283.4,541.6 281.5,536.8 278.7,533.0" fill="#7f2110" stroke="#4a2a26" stroke-opacity="0.65" stroke-width="0.9" stroke-linejoin="round" stroke-linecap="round"/>
<polygon points="330.3,529.2 334.1,527.3 337.9,530.1 340.8,534.9 339.8,540.6 341.7,545.4 339.8,550.2 336.0,552.1 330.3,551.1 325.5,548.3 321.7,546.4 319.7,544.5 323.6,542.5 326.4,538.7 329.3,534.9" fill="#a12917" stroke="#4a2a26" stroke-opacity="0.65" stroke-width="0.9" stroke-linejoin="round" stroke-linecap="round"/>
<polygon points="285.4,556.9 288.2,555.9 292.0,555.9 296.8,554.0 300.6,556.9 305.4,557.8 310.2,556.9 314.0,555.0 318.8,555.9 320.7,558.8 316.9,561.7 314.0,565.5 313.1,570.3 315.9,574.1 320.7,576.0 323.6,579.8 322.6,583.6 318.8,587.5 314.0,591.3 309.2,595.1 305.4,598.9 301.6,591.3 297.8,584.6 294.9,578.9 289.2,576.0 284.4,574.1 284.4,568.3 285.9,562.6" fill="#f9d8d4" stroke="#4a2a26" stroke-opacity="0.65" stroke-width="0.9" stroke-linejoin="round" stroke-linecap="round"/>
<polygon points="320.7,558.8 326.4,557.8 331.2,559.7 332.2,566.4 333.1,572.2 336.0,577.9 336.9,583.6 335.0,587.5 328.3,586.5 323.6,584.6 323.6,579.8 320.7,576.0 315.9,574.1 313.1,570.3 314.0,565.5 316.9,561.7" fill="#a12917" stroke="#4a2a26" stroke-opacity="0.65" stroke-width="0.9" stroke-linejoin="round" stroke-linecap="round"/>
<polygon points="372.3,562.6 378.0,559.7 383.8,557.8 389.5,555.9 395.2,555.0 400.0,553.1 400.0,598.9 397.1,594.1 393.3,587.5 389.5,581.7 383.8,579.8 378.0,578.9 371.3,576.9 368.5,572.2 369.4,566.4" fill="#7f2110"/>
<path d="M400.0 598.9L397.1 594.1L393.3 587.5L389.5 581.7L383.8 579.8L378.0 578.9L371.3 576.9L368.5 572.2L369.4 566.4L372.3 562.6L378.0 559.7L383.8 557.8L389.5 555.9L395.2 555.0L400.0 553.1" fill="none" stroke="#4a2a26" stroke-opacity="0.65" stroke-width="0.9" stroke-linejoin="round" stroke-linecap="round"/>
<polygon points="374.2,501.5 379.9,499.6 387.6,497.6 400.0,495.7 400.0,528.2 395.2,527.3 389.5,528.2 383.8,530.1 381.8,531.1 379.9,527.3 377.1,524.4 381.8,520.6 383.8,515.8 379.9,512.9 374.2,512.0 372.3,508.2 371.3,504.3" fill="#a12917"/>
<path d="M400.0 528.2L395.2 527.3L389.5 528.2L383.8 530.1L381.8 531.1L379.9 527.3L377.1 524.4L381.8 520.6L383.8 515.8L379.9 512.9L374.2 512.0L372.3 508.2L371.3 504.3L374.2 501.5L379.9 499.6L387.6 497.6L400.0 495.7" fill="none" stroke="#4a2a26" stroke-opacity="0.65" stroke-width="0.9" stroke-linejoin="round" stroke-linecap="round"/>
<polygon points="339.8,490.0 400.0,490.0 400.0,495.7 387.6,497.6 379.9,499.6 372.3,497.6 364.6,495.7 357.0,493.8 352.2,493.8 347.5,492.3 339.8,492.3" fill="#a12917"/>
<path d="M400.0 495.7L387.6 497.6L379.9 499.6L372.3 497.6L364.6 495.7L357.0 493.8L352.2 493.8L347.5 492.3L339.8 492.3L339.8 490.0" fill="none" stroke="#4a2a26" stroke-opacity="0.65" stroke-width="0.9" stroke-linejoin="round" stroke-linecap="round"/>
<polygon points="380.0,530.0 423.9,530.0 423.0,534.8 420.1,539.6 415.4,542.4 409.6,545.3 403.9,548.2 398.2,549.1 393.4,551.0 388.6,550.1 383.8,548.2 380.0,547.2" fill="#cc301a"/>
<path d="M423.9 530.0L423.0 534.8L420.1 539.6L415.4 542.4L409.6 545.3L403.9 548.2L398.2 549.1L393.4 551.0L388.6 550.1L383.8 548.2L380.0 547.2" fill="none" stroke="#4a2a26" stroke-opacity="0.65" stroke-width="0.9" stroke-linejoin="round" stroke-linecap="round"/>
<polygon points="380.0,556.8 385.7,558.7 391.5,562.5 398.2,564.4 404.8,566.3 411.5,567.3 418.2,569.2 424.9,570.1 431.6,571.1 437.3,573.0 443.1,575.9 447.8,580.6 451.7,585.4 453.6,591.1 453.6,597.8 451.7,601.7 447.8,604.5 445.0,608.3 442.1,613.1 444.0,617.9 445.0,623.6 443.1,629.4 441.1,634.1 440.2,637.0 435.4,639.9 430.6,639.9 428.7,637.0 424.9,634.1 421.1,629.4 417.3,623.6 414.4,617.9 410.6,612.2 406.8,606.4 402.0,600.7 397.2,595.0 393.4,589.2 390.5,583.5 385.7,579.7 380.0,578.7" fill="#7f2110"/>
<path d="M380.0 556.8L385.7 558.7L391.5 562.5L398.2 564.4L404.8 566.3L411.5 567.3L418.2 569.2L424.9 570.1L431.6 571.1L437.3 573.0L443.1 575.9L447.8 580.6L451.7 585.4L453.6 591.1L453.6 597.8L451.7 601.7L447.8 604.5L445.0 608.3L442.1 613.1L444.0 617.9L445.0 623.6L443.1 629.4L441.1 634.1L440.2 637.0L435.4 639.9L430.6 639.9L428.7 637.0L424.9 634.1L421.1 629.4L417.3 623.6L414.4 617.9L410.6 612.2L406.8 606.4L402.0 600.7L397.2 595.0L393.4 589.2L390.5 583.5L385.7 579.7L380.0 578.7" fill="none" stroke="#4a2a26" stroke-opacity="0.65" stroke-width="0.9" stroke-linejoin="round" stroke-linecap="round"/>
<polygon points="443.1,530.0 457.4,530.0 460.3,534.8 465.0,539.6 471.7,543.4 479.4,546.2 487.0,549.1 496.6,552.0 506.1,553.9 517.6,554.8 530.0,554.8 530.0,560.6 525.2,558.7 519.5,560.6 513.8,561.5 509.9,558.7 504.2,558.7 498.5,559.6 492.7,561.5 488.9,565.4 487.0,571.1 484.1,575.9 482.2,576.8 478.4,572.0 476.5,567.3 472.7,565.4 467.9,567.3 468.3,556.8 466.9,551.0 462.2,548.2 456.4,546.2 452.6,541.5 448.8,536.7" fill="#7f2110"/>
<path d="M457.4 530.0L460.3 534.8L465.0 539.6L471.7 543.4L479.4 546.2L487.0 549.1L496.6 552.0L506.1 553.9L517.6 554.8L530.0 554.8M530.0 560.6L525.2 558.7L519.5 560.6L513.8 561.5L509.9 558.7L504.2 558.7L498.5 559.6L492.7 561.5L488.9 565.4L487.0 571.1L484.1 575.9L482.2 576.8L478.4 572.0L476.5 567.3L472.7 565.4L467.9 567.3L468.3 556.8L466.9 551.0L462.2 548.2L456.4 546.2L452.6 541.5L448.8 536.7L443.1 530.0" fill="none" stroke="#4a2a26" stroke-opacity="0.65" stroke-width="0.9" stroke-linejoin="round" stroke-linecap="round"/>
<polygon points="492.7,561.5 498.5,559.6 504.2,558.7 509.9,558.7 511.8,564.4 510.9,571.1 511.8,577.8 513.8,584.5 516.6,591.1 518.5,597.8 517.6,604.5 513.8,606.4 509.0,605.5 504.2,603.6 500.4,598.8 496.6,595.0 492.7,591.1 489.9,584.5 486.1,580.6 484.1,575.9 487.0,571.1 488.9,565.4" fill="#cc301a" stroke="#4a2a26" stroke-opacity="0.65" stroke-width="0.9" stroke-linejoin="round" stroke-linecap="round"/>
<polygon points="473.6,615.0 477.5,612.2 482.2,610.3 484.1,616.0 487.0,621.7 489.9,626.5 490.8,630.3 488.0,635.1 485.1,639.9 482.2,644.6 479.4,641.8 475.5,639.9 474.6,635.1 475.2,629.4 473.6,624.6 469.8,621.7 466.9,620.8 471.7,618.9" fill="#cc301a" stroke="#4a2a26" stroke-opacity="0.65" stroke-width="0.9" stroke-linejoin="round" stroke-linecap="round"/>
<polygon points="480.3,671.4 484.1,668.5 490.8,669.5 496.6,672.4 504.2,673.3 513.8,672.4 521.4,670.4 527.1,673.3 530.0,675.2 530.0,680.0 478.4,680.0" fill="#cc301a"/>
<path d="M478.4 680.0L480.3 671.4L484.1 668.5L490.8 669.5L496.6 672.4L504.2 673.3L513.8 672.4L521.4 670.4L527.1 673.3L530.0 675.2" fill="none" stroke="#4a2a26" stroke-opacity="0.65" stroke-width="0.9" stroke-linejoin="round" stroke-linecap="round"/>
<polygon points="525.2,629.4 530.0,633.2 530.0,644.6 526.2,644.6 522.4,640.8 521.0,636.1 522.4,632.2" fill="#e96b55"/>
<path d="M530.0 644.6L526.2 644.6L522.4 640.8L521.0 636.1L522.4 632.2L525.2 629.4L530.0 633.2" fill="none" stroke="#4a2a26" stroke-opacity="0.65" stroke-width="0.9" stroke-linejoin="round" stroke-linecap="round"/>
<polygon points="478.7,630.0 522.6,630.0 521.7,635.7 523.6,640.5 526.4,645.3 530.3,650.1 533.1,654.8 532.2,660.6 529.3,665.4 525.5,669.2 520.7,671.1 515.0,672.0 508.3,673.0 501.6,673.0 496.8,671.1 492.0,668.2 487.3,667.3 481.5,664.4 480.6,656.8 478.7,649.1 476.8,641.5 475.8,637.6 472.9,633.8 473.9,630.0" fill="#a12917"/>
<path d="M522.6 630.0L521.7 635.7L523.6 640.5L526.4 645.3L530.3 650.1L533.1 654.8L532.2 660.6L529.3 665.4L525.5 669.2L520.7 671.1L515.0 672.0L508.3 673.0L501.6 673.0L496.8 671.1L492.0 668.2L487.3 667.3L481.5 664.4L480.6 656.8L478.7 649.1L476.8 641.5L475.8 637.6L472.9 633.8L473.9 630.0" fill="none" stroke="#4a2a26" stroke-opacity="0.65" stroke-width="0.9" stroke-linejoin="round" stroke-linecap="round"/>
<polygon points="481.5,664.4 487.3,667.3 492.0,668.2 496.8,671.1 501.6,673.0 508.3,673.0 515.0,672.0 520.7,671.1 525.5,669.2 527.4,673.9 529.3,679.7 532.2,685.4 535.0,689.2 536.9,694.0 539.8,697.8 542.7,701.7 538.9,704.5 534.1,708.3 530.3,713.1 525.5,714.1 520.7,716.9 517.8,716.0 519.7,711.2 523.6,708.3 518.8,706.4 514.0,707.4 511.1,703.6 507.3,700.7 503.5,697.8 500.6,694.0 496.8,696.9 493.0,699.7 490.1,703.6 489.2,708.3 487.3,710.3 483.4,708.3 478.7,705.5 473.9,701.7 471.0,696.9 471.0,693.1 474.8,687.3 475.8,679.7 478.7,672.0" fill="#cc301a" stroke="#4a2a26" stroke-opacity="0.65" stroke-width="0.9" stroke-linejoin="round" stroke-linecap="round"/>
<polygon points="500.6,694.0 503.5,697.8 507.3,700.7 511.1,703.6 514.0,707.4 518.8,706.4 523.6,708.3 519.7,711.2 517.8,716.0 515.9,720.8 511.1,721.7 505.4,722.7 500.6,724.6 496.8,723.6 493.0,718.9 489.2,716.0 485.4,715.0 487.3,710.3 489.2,708.3 490.1,703.6 493.0,699.7 496.8,696.9" fill="#f9d8d4" stroke="#4a2a26" stroke-opacity="0.65" stroke-width="0.9" stroke-linejoin="round" stroke-linecap="round"/>
<polygon points="522.6,630.0 526.4,631.0 532.2,632.9 537.9,634.8 543.6,636.7 549.4,638.6 554.1,640.5 558.0,643.4 559.9,648.2 562.7,652.0 564.6,656.8 560.8,658.7 558.9,663.4 559.9,669.2 557.0,673.0 555.1,677.8 554.1,681.6 549.4,682.5 544.6,684.5 539.8,686.4 535.0,689.2 532.2,685.4 529.3,679.7 527.4,673.9 525.5,669.2 529.3,665.4 532.2,660.6 533.1,654.8 530.3,650.1 526.4,645.3 523.6,640.5 521.7,635.7" fill="#e96b55" stroke="#4a2a26" stroke-opacity="0.65" stroke-width="0.9" stroke-linejoin="round" stroke-linecap="round"/>
<polygon points="526.4,631.0 528.3,630.0 595.2,630.0 591.4,633.8 585.7,632.9 579.9,634.8 574.2,637.6 569.4,641.5 564.6,643.4 559.9,641.5 558.0,643.4 554.1,640.5 549.4,638.6 543.6,636.7 537.9,634.8 532.2,632.9" fill="#cc301a"/>
<path d="M595.2 630.0L591.4 633.8L585.7 632.9L579.9 634.8L574.2 637.6L569.4 641.5L564.6 643.4L559.9 641.5L558.0 643.4L554.1 640.5L549.4 638.6L543.6 636.7L537.9 634.8L532.2 632.9L526.4 631.0L528.3 630.0" fill="none" stroke="#4a2a26" stroke-opacity="0.65" stroke-width="0.9" stroke-linejoin="round" stroke-linecap="round"/>
<polygon points="564.6,643.4 569.4,641.5 574.2,637.6 579.9,634.8 585.7,632.9 591.4,633.8 595.2,635.7 600.0,634.8 600.0,663.4 595.2,662.5 591.4,658.7 585.7,659.6 581.8,657.7 577.1,659.6 572.3,660.6 568.5,657.7 564.6,656.8 562.7,652.0 559.9,648.2 558.0,643.4 559.9,641.5" fill="#a12917"/>
<path d="M600.0 663.4L595.2 662.5L591.4 658.7L585.7 659.6L581.8 657.7L577.1 659.6L572.3 660.6L568.5 657.7L564.6 656.8L562.7 652.0L559.9 648.2L558.0 643.4L559.9 641.5L564.6 643.4L569.4 641.5L574.2 637.6L579.9 634.8L585.7 632.9L591.4 633.8L595.2 635.7L600.0 634.8" fill="none" stroke="#4a2a26" stroke-opacity="0.65" stroke-width="0.9" stroke-linejoin="round" stroke-linecap="round"/>
<polygon points="564.6,656.8 568.5,657.7 572.3,660.6 577.1,659.6 581.8,657.7 585.7,659.6 591.4,658.7 590.4,664.4 588.5,671.1 587.6,677.8 584.7,683.5 583.8,686.4 587.6,690.2 592.4,693.1 597.1,695.0 600.0,695.9 600.0,713.1 593.3,714.1 586.6,715.0 579.9,716.9 574.2,718.9 569.4,719.8 564.6,716.0 560.8,712.2 558.0,709.3 561.8,705.5 566.6,703.6 567.5,699.7 564.6,695.9 560.8,692.1 556.1,693.1 552.2,696.9 547.5,700.7 542.7,701.7 539.8,697.8 536.9,694.0 535.0,689.2 539.8,686.4 544.6,684.5 549.4,682.5 554.1,681.6 555.1,677.8 557.0,673.0 559.9,669.2 558.9,663.4 560.8,658.7" fill="#f9d8d4"/>
<path d="M600.0 713.1L593.3 714.1L586.6 715.0L579.9 716.9L574.2 718.9L569.4 719.8L564.6 716.0L560.8 712.2L558.0 709.3L561.8 705.5L566.6 703.6L567.5 699.7L564.6 695.9L560.8 692.1L556.1 693.1L552.2 696.9L547.5 700.7L542.7 701.7L539.8 697.8L536.9 694.0L535.0 689.2L539.8 686.4L544.6 684.5L549.4 682.5L554.1 681.6L555.1 677.8L557.0 673.0L559.9 669.2L558.9 663.4L560.8 658.7L564.6 656.8L568.5 657.7L572.3 660.6L577.1 659.6L581.8 657.7L585.7 659.6L591.4 658.7L590.4 664.4L588.5 671.1L587.6 677.8L584.7 683.5L583.8 686.4L587.6 690.2L592.4 693.1L597.1 695.0L600.0 695.9" fill="none" stroke="#4a2a26" stroke-opacity="0.65" stroke-width="0.9" stroke-linejoin="round" stroke-linecap="round"/>
<polygon points="591.4,664.4 595.2,662.5 600.0,663.4 600.0,693.1 597.1,692.1 592.4,690.2 587.6,687.3 584.7,683.5 587.6,677.8 588.5,671.1 590.4,664.4" fill="#e96b55"/>
<path d="M600.0 693.1L597.1 692.1L592.4 690.2L587.6 687.3L584.7 683.5L587.6 677.8L588.5 671.1L590.4 664.4L591.4 664.4L595.2 662.5L600.0 663.4" fill="none" stroke="#4a2a26" stroke-opacity="0.65" stroke-width="0.9" stroke-linejoin="round" stroke-linecap="round"/>
<polygon points="569.4,719.8 574.2,718.9 579.9,716.9 586.6,715.0 593.3,714.1 600.0,713.1 600.0,747.5 593.3,745.6 585.7,741.8 579.9,734.1 575.2,727.5" fill="#f3a89c"/>
<path d="M600.0 747.5L593.3 745.6L585.7 741.8L579.9 734.1L575.2 727.5L569.4 719.8L574.2 718.9L579.9 716.9L586.6 715.0L593.3 714.1L600.0 713.1" fill="none" stroke="#4a2a26" stroke-opacity="0.65" stroke-width="0.9" stroke-linejoin="round" stroke-linecap="round"/>
<polygon points="450.0,630.0 473.9,630.0 472.9,633.8 475.8,637.6 469.1,638.6 465.3,636.7 459.6,635.7 453.8,638.6 450.0,639.6" fill="#f3a89c"/>
<path d="M473.9 630.0L472.9 633.8L475.8 637.6L469.1 638.6L465.3 636.7L459.6 635.7L453.8 638.6L450.0 639.6" fill="none" stroke="#4a2a26" stroke-opacity="0.65" stroke-width="0.9" stroke-linejoin="round" stroke-linecap="round"/>
<polygon points="500.0,560.0 511.5,560.0 510.5,565.7 508.6,570.5 511.5,576.2 515.3,582.9 518.2,588.7 519.1,596.3 517.2,602.0 513.4,605.9 507.6,604.9 500.0,603.0" fill="#cc301a"/>
<path d="M511.5 560.0L510.5 565.7L508.6 570.5L511.5 576.2L515.3 582.9L518.2 588.7L519.1 596.3L517.2 602.0L513.4 605.9L507.6 604.9L500.0 603.0" fill="none" stroke="#4a2a26" stroke-opacity="0.65" stroke-width="0.9" stroke-linejoin="round" stroke-linecap="round"/>
<polygon points="547.8,560.0 570.7,560.0 575.5,563.8 579.3,568.6 576.4,573.4 573.6,579.1 571.7,584.8 570.7,592.5 569.7,600.1 567.8,607.8 564.0,611.6 559.2,615.4 554.5,618.3 549.7,621.1 545.9,619.2 543.9,614.5 546.8,608.7 550.6,603.0 552.5,596.3 553.5,588.7 551.6,581.0 548.7,573.4 546.8,566.7" fill="#7f2110"/>
<path d="M570.7 560.0L575.5 563.8L579.3 568.6L576.4 573.4L573.6 579.1L571.7 584.8L570.7 592.5L569.7 600.1L567.8 607.8L564.0 611.6L559.2 615.4L554.5 618.3L549.7 621.1L545.9 619.2L543.9 614.5L546.8 608.7L550.6 603.0L552.5 596.3L553.5 588.7L551.6 581.0L548.7 573.4L546.8 566.7L547.8 560.0" fill="none" stroke="#4a2a26" stroke-opacity="0.65" stroke-width="0.9" stroke-linejoin="round" stroke-linecap="round"/>
<polygon points="579.3,568.6 585.0,572.4 591.7,574.3 599.4,576.2 601.3,581.0 602.2,586.8 603.2,592.5 605.1,596.3 601.3,599.2 596.5,601.1 591.7,603.0 586.9,605.9 584.1,610.6 578.3,611.6 572.6,609.7 567.8,607.8 569.7,600.1 570.7,592.5 571.7,584.8 573.6,579.1 576.4,573.4" fill="#a12917" stroke="#4a2a26" stroke-opacity="0.65" stroke-width="0.9" stroke-linejoin="round" stroke-linecap="round"/>
<polygon points="564.0,611.6 567.8,607.8 572.6,609.7 578.3,611.6 584.1,610.6 589.8,612.5 593.6,616.4 595.5,623.1 594.6,629.7 591.7,633.6 586.9,635.5 582.2,634.5 576.4,635.5 571.7,637.4 567.8,640.3 564.0,643.1 560.2,641.2 557.3,637.4 552.5,635.5 547.8,633.6 543.0,631.7 538.2,629.7 537.3,625.9 541.1,624.0 545.9,622.1 549.7,621.1 554.5,618.3 559.2,615.4" fill="#cc301a" stroke="#4a2a26" stroke-opacity="0.65" stroke-width="0.9" stroke-linejoin="round" stroke-linecap="round"/>
<polygon points="564.0,643.1 567.8,640.3 571.7,637.4 576.4,635.5 582.2,634.5 586.9,635.5 591.7,633.6 595.5,635.5 599.4,633.6 604.1,635.5 608.0,639.3 609.9,644.1 608.9,648.9 606.1,653.6 604.1,658.4 599.4,661.3 594.6,662.2 589.8,659.4 585.0,657.5 580.3,658.4 575.5,659.4 570.7,658.4 566.9,655.5 565.0,650.8 562.1,646.9" fill="#a12917" stroke="#4a2a26" stroke-opacity="0.65" stroke-width="0.9" stroke-linejoin="round" stroke-linecap="round"/>
<polygon points="524.8,630.7 530.6,631.7 538.2,629.7 543.0,631.7 547.8,633.6 552.5,635.5 557.3,637.4 560.2,641.2 564.0,643.1 562.1,646.9 563.1,651.7 561.1,655.5 558.3,659.4 557.3,666.1 556.4,672.7 555.4,678.5 551.6,681.3 545.9,683.2 540.1,685.2 534.4,687.1 530.6,684.2 528.7,678.5 529.6,672.7 531.5,667.0 532.5,661.3 530.6,655.5 528.7,649.8 525.8,645.0 522.9,640.3 521.0,635.5" fill="#e96b55" stroke="#4a2a26" stroke-opacity="0.65" stroke-width="0.9" stroke-linejoin="round" stroke-linecap="round"/>
<polygon points="561.1,655.5 566.9,655.5 570.7,658.4 575.5,659.4 580.3,658.4 585.0,657.5 589.8,659.4 591.7,664.1 589.8,669.9 587.9,675.6 586.9,681.3 585.0,685.2 587.9,689.9 591.7,693.8 595.5,696.6 601.3,699.5 606.1,703.3 607.0,710.0 584.1,710.0 584.1,705.2 580.3,707.1 574.5,709.0 569.7,710.0 566.9,710.0 567.8,705.2 566.9,699.5 563.1,694.7 559.2,691.8 554.5,693.8 550.6,696.6 545.9,700.4 541.1,700.4 537.3,696.6 535.4,691.8 534.4,687.1 540.1,685.2 545.9,683.2 551.6,681.3 555.4,678.5 556.4,672.7 557.3,666.1 558.3,659.4" fill="#f9d8d4"/>
<path d="M584.1 710.0L584.1 705.2L580.3 707.1L574.5 709.0L569.7 710.0M566.9 710.0L567.8 705.2L566.9 699.5L563.1 694.7L559.2 691.8L554.5 693.8L550.6 696.6L545.9 700.4L541.1 700.4L537.3 696.6L535.4 691.8L534.4 687.1L540.1 685.2L545.9 683.2L551.6 681.3L555.4 678.5L556.4 672.7L557.3 666.1L558.3 659.4L561.1 655.5L566.9 655.5L570.7 658.4L575.5 659.4L580.3 658.4L585.0 657.5L589.8 659.4L591.7 664.1L589.8 669.9L587.9 675.6L586.9 681.3L585.0 685.2L587.9 689.9L591.7 693.8L595.5 696.6L601.3 699.5L606.1 703.3L607.0 710.0" fill="none" stroke="#4a2a26" stroke-opacity="0.65" stroke-width="0.9" stroke-linejoin="round" stroke-linecap="round"/>
<polygon points="500.0,672.7 505.7,673.7 513.4,672.7 521.0,671.8 524.8,676.6 528.7,682.3 530.6,684.2 534.4,687.1 535.4,691.8 537.3,696.6 541.1,700.4 536.3,703.3 531.5,707.1 526.8,710.0 519.1,708.1 511.5,703.3 505.7,697.6 500.0,693.8" fill="#cc301a"/>
<path d="M500.0 672.7L505.7 673.7L513.4 672.7L521.0 671.8L524.8 676.6L528.7 682.3L530.6 684.2L534.4 687.1L535.4 691.8L537.3 696.6L541.1 700.4L536.3 703.3L531.5 707.1L526.8 710.0L519.1 708.1L511.5 703.3L505.7 697.6L500.0 693.8" fill="none" stroke="#4a2a26" stroke-opacity="0.65" stroke-width="0.9" stroke-linejoin="round" stroke-linecap="round"/>
<polygon points="500.0,693.8 505.7,697.6 511.5,703.3 519.1,708.1 522.9,710.0 500.0,710.0" fill="#f9d8d4"/>
<path d="M500.0 693.8L505.7 697.6L511.5 703.3L519.1 708.1L522.9 710.0" fill="none" stroke="#4a2a26" stroke-opacity="0.65" stroke-width="0.9" stroke-linejoin="round" stroke-linecap="round"/>
<polygon points="586.9,605.9 591.7,603.0 596.5,601.1 601.3,599.2 605.1,596.3 608.9,595.4 611.8,599.2 612.7,605.9 610.8,612.5 609.9,619.2 611.8,625.9 614.6,630.7 616.6,633.6 613.7,636.4 609.9,638.3 608.0,639.3 604.1,635.5 599.4,633.6 595.5,635.5 591.7,633.6 594.6,629.7 595.5,623.1 593.6,616.4 589.8,612.5 584.1,610.6" fill="#f3a89c" stroke="#4a2a26" stroke-opacity="0.65" stroke-width="0.9" stroke-linejoin="round" stroke-linecap="round"/>
<polygon points="599.4,576.2 604.1,574.3 610.8,574.3 614.6,577.2 617.5,582.0 620.4,587.7 624.2,593.4 629.0,598.2 634.7,603.0 639.5,607.8 641.4,614.5 642.4,620.2 644.3,625.9 646.2,631.7 645.2,636.4 639.5,637.4 633.8,636.4 628.0,635.5 625.2,638.3 618.5,639.3 612.7,639.3 610.8,636.4 614.6,630.7 611.8,625.9 609.9,619.2 610.8,612.5 612.7,605.9 611.8,599.2 608.9,595.4 605.1,596.3 603.2,592.5 602.2,586.8 601.3,581.0" fill="#f9d8d4" stroke="#4a2a26" stroke-opacity="0.65" stroke-width="0.9" stroke-linejoin="round" stroke-linecap="round"/>
<polygon points="618.5,639.3 625.2,638.3 628.0,635.5 633.8,636.4 639.5,637.4 645.2,636.4 646.2,640.3 643.3,644.1 639.5,646.9 633.8,648.9 628.0,647.9 622.3,646.9 618.5,644.1" fill="#e96b55" stroke="#4a2a26" stroke-opacity="0.65" stroke-width="0.9" stroke-linejoin="round" stroke-linecap="round"/>
<polygon points="609.9,644.1 613.7,645.0 618.5,644.1 622.3,646.9 620.4,650.8 616.6,653.6 612.7,656.5 608.9,658.4 605.1,657.5 606.1,653.6 608.9,648.9" fill="#e96b55" stroke="#4a2a26" stroke-opacity="0.65" stroke-width="0.9" stroke-linejoin="round" stroke-linecap="round"/>
<polygon points="622.3,646.9 628.0,647.9 633.8,648.9 634.7,653.6 636.6,658.4 640.4,663.2 642.4,668.9 643.3,674.6 641.4,680.4 637.6,685.2 633.8,688.0 629.9,686.1 626.1,682.3 624.2,677.5 627.1,672.7 629.9,668.0 626.1,664.1 623.2,659.4 621.3,654.6 620.4,650.8" fill="#7f2110" stroke="#4a2a26" stroke-opacity="0.65" stroke-width="0.9" stroke-linejoin="round" stroke-linecap="round"/>
<polygon points="646.2,631.7 650.0,633.6 650.0,678.5 647.1,674.6 644.3,668.9 642.4,663.2 641.4,657.5 642.4,651.7 643.3,644.1 646.2,640.3 645.2,636.4" fill="#57160c"/>
<path d="M650.0 678.5L647.1 674.6L644.3 668.9L642.4 663.2L641.4 657.5L642.4 651.7L643.3 644.1L646.2 640.3L645.2 636.4L646.2 631.7L650.0 633.6" fill="none" stroke="#4a2a26" stroke-opacity="0.65" stroke-width="0.9" stroke-linejoin="round" stroke-linecap="round"/>
<polygon points="633.8,648.9 639.5,646.9 643.3,644.1 642.4,651.7 641.4,657.5 642.4,663.2 644.3,668.9 647.1,674.6 643.3,674.6 642.4,668.9 640.4,663.2 636.6,658.4 634.7,653.6" fill="#7f2110" stroke="#4a2a26" stroke-opacity="0.65" stroke-width="0.9" stroke-linejoin="round" stroke-linecap="round"/>
<polygon points="591.7,664.1 594.6,662.2 599.4,661.3 600.3,665.1 602.2,669.9 605.1,672.7 608.0,677.5 610.8,682.3 614.6,687.1 618.5,691.8 620.4,697.6 621.3,703.3 620.4,710.0 607.0,710.0 606.1,703.3 601.3,699.5 595.5,696.6 591.7,693.8 587.9,689.9 585.0,685.2 586.9,681.3 587.9,675.6 589.8,669.9" fill="#e96b55"/>
<path d="M607.0 710.0L606.1 703.3L601.3 699.5L595.5 696.6L591.7 693.8L587.9 689.9L585.0 685.2L586.9 681.3L587.9 675.6L589.8 669.9L591.7 664.1L594.6 662.2L599.4 661.3L600.3 665.1L602.2 669.9L605.1 672.7L608.0 677.5L610.8 682.3L614.6 687.1L618.5 691.8L620.4 697.6L621.3 703.3L620.4 710.0" fill="none" stroke="#4a2a26" stroke-opacity="0.65" stroke-width="0.9" stroke-linejoin="round" stroke-linecap="round"/>
<polygon points="612.7,656.5 616.6,653.6 620.4,654.6 623.2,659.4 626.1,664.1 629.9,668.0 627.1,672.7 624.2,677.5 626.1,682.3 629.9,686.1 633.8,688.0 636.6,691.8 633.8,696.6 631.8,701.4 629.9,706.2 629.0,710.0 620.4,710.0 621.3,703.3 620.4,697.6 618.5,691.8 614.6,687.1 610.8,682.3 608.0,677.5 608.9,670.8 611.8,666.1 612.7,660.3" fill="#f3a89c"/>
<path d="M620.4 710.0L621.3 703.3L620.4 697.6L618.5 691.8L614.6 687.1L610.8 682.3L608.0 677.5L608.9 670.8L611.8 666.1L612.7 660.3L612.7 656.5L616.6 653.6L620.4 654.6L623.2 659.4L626.1 664.1L629.9 668.0L627.1 672.7L624.2 677.5L626.1 682.3L629.9 686.1L633.8 688.0L636.6 691.8L633.8 696.6L631.8 701.4L629.9 706.2L629.0 710.0" fill="none" stroke="#4a2a26" stroke-opacity="0.65" stroke-width="0.9" stroke-linejoin="round" stroke-linecap="round"/>
<polygon points="637.6,685.2 641.4,680.4 643.3,674.6 647.1,674.6 650.0,678.5 650.0,710.0 629.0,710.0 629.9,706.2 631.8,701.4 633.8,696.6 636.6,691.8 633.8,688.0" fill="#f9d8d4"/>
<path d="M629.0 710.0L629.9 706.2L631.8 701.4L633.8 696.6L636.6 691.8L633.8 688.0L637.6 685.2L641.4 680.4L643.3 674.6L647.1 674.6L650.0 678.5" fill="none" stroke="#4a2a26" stroke-opacity="0.65" stroke-width="0.9" stroke-linejoin="round" stroke-linecap="round"/>
<polygon points="693.2,621.4 699.3,618.3 707.9,616.3 709.1,621.4 712.5,623.4 713.6,631.6 716.6,636.7 717.6,645.9 716.6,652.0 717.2,659.1 719.7,665.2 725.8,666.2 731.9,668.3 735.0,673.4 740.1,679.5 747.2,681.5 752.3,685.6 760.4,688.7 766.6,692.7 771.7,699.9 776.8,703.9 782.9,707.0 781.8,714.1 780.8,722.3 777.8,729.4 780.8,734.5 785.9,739.6 780.8,744.7 774.7,749.8 770.6,754.9 769.4,759.0 752.7,767.3 742.5,767.3 743.1,746.8 736.0,743.7 725.8,742.7 715.6,742.7 705.4,742.7 702.4,738.6 701.3,732.5 700.3,726.4 701.3,720.3 700.3,714.1 705.4,708.0 710.5,705.0 708.5,699.9 705.4,693.8 703.4,687.6 701.3,681.5 699.3,675.4 700.3,669.3 695.2,667.3 691.1,665.2 693.2,659.1 696.2,655.0 698.3,648.9 696.2,643.8 694.2,638.7 695.2,632.6 694.2,626.5" fill="#a12917" stroke="#4a2a26" stroke-opacity="0.65" stroke-width="0.9" stroke-linejoin="round" stroke-linecap="round"/>
<polygon points="650.4,640.8 656.5,638.7 662.6,640.8 665.1,643.8 666.7,646.9 667.7,653.0 668.7,659.1 672.8,661.1 678.9,661.1 685.0,661.1 691.1,663.2 691.1,665.2 695.2,667.3 700.3,669.3 699.3,675.4 701.3,681.5 703.4,687.6 705.4,693.8 708.5,699.9 710.5,705.0 705.4,708.0 700.3,714.1 701.3,720.3 700.3,726.4 701.3,732.5 702.4,738.6 699.3,734.5 695.2,731.5 689.1,732.5 684.0,733.5 681.0,729.4 675.9,727.4 670.8,725.4 667.7,720.3 666.7,714.1 669.7,708.0 670.8,701.9 666.7,699.9 660.6,698.9 654.5,699.9 650.4,695.8 649.4,689.7 647.3,683.6 650.4,678.5 647.3,674.4 643.2,670.3 644.3,663.2 648.3,658.1 650.4,652.0 649.4,645.9" fill="#57160c" stroke="#4a2a26" stroke-opacity="0.65" stroke-width="0.9" stroke-linejoin="round" stroke-linecap="round"/>
<polygon points="641.2,627.5 645.3,630.6 650.4,629.6 656.5,630.6 662.6,632.6 669.7,634.6 675.9,637.7 673.8,640.8 669.7,642.8 665.1,643.8 662.6,640.8 656.5,638.7 650.4,640.8 649.4,645.9 645.3,647.9 641.2,648.9 639.2,643.8 642.2,638.7 645.3,634.6" fill="#7f2110" stroke="#4a2a26" stroke-opacity="0.65" stroke-width="0.9" stroke-linejoin="round" stroke-linecap="round"/>
<polygon points="647.3,683.6 649.4,689.7 650.4,695.8 654.5,699.9 660.6,698.9 666.7,699.9 670.8,701.9 669.7,708.0 666.7,714.1 667.7,720.3 670.8,725.4 665.7,726.4 660.6,727.4 660.6,732.5 665.7,734.5 660.6,736.6 654.5,738.6 650.4,741.7 645.3,740.6 643.2,745.7 638.2,744.7 634.1,740.6 630.0,738.6 630.0,687.6 634.1,689.7 638.2,685.6 641.2,680.5 644.3,677.5 647.3,676.4 650.4,678.5" fill="#f9d8d4"/>
<path d="M630.0 687.6L634.1 689.7L638.2 685.6L641.2 680.5L644.3 677.5L647.3 676.4L650.4 678.5L647.3 683.6L649.4 689.7L650.4 695.8L654.5 699.9L660.6 698.9L666.7 699.9L670.8 701.9L669.7 708.0L666.7 714.1L667.7 720.3L670.8 725.4L665.7 726.4L660.6 727.4L660.6 732.5L665.7 734.5L660.6 736.6L654.5 738.6L650.4 741.7L645.3 740.6L643.2 745.7L638.2 744.7L634.1 740.6L630.0 738.6" fill="none" stroke="#4a2a26" stroke-opacity="0.65" stroke-width="0.9" stroke-linejoin="round" stroke-linecap="round"/>
<polygon points="660.6,727.4 665.7,726.4 670.8,725.4 675.9,727.4 681.0,729.4 684.0,733.5 689.1,732.5 695.2,731.5 699.3,734.5 702.4,738.6 705.4,742.7 715.6,742.7 725.8,742.7 736.0,743.7 743.1,746.8 742.5,767.3 630.0,767.3 630.0,760.0 632.0,754.9 637.1,750.8 638.2,744.7 643.2,745.7 645.3,740.6 650.4,741.7 654.5,738.6 660.6,736.6 665.7,734.5 660.6,732.5" fill="#cc301a"/>
<path d="M630.0 760.0L632.0 754.9L637.1 750.8L638.2 744.7L643.2 745.7L645.3 740.6L650.4 741.7L654.5 738.6L660.6 736.6L665.7 734.5L660.6 732.5L660.6 727.4L665.7 726.4L670.8 725.4L675.9 727.4L681.0 729.4L684.0 733.5L689.1 732.5L695.2 731.5L699.3 734.5L702.4 738.6L705.4 742.7L715.6 742.7L725.8 742.7L736.0 743.7L743.1 746.8L742.5 767.3L630.0 767.3" fill="none" stroke="#4a2a26" stroke-opacity="0.65" stroke-width="0.9" stroke-linejoin="round" stroke-linecap="round"/>
<polygon points="630.0,738.6 634.1,740.6 638.2,744.7 637.1,750.8 632.0,754.9 630.0,760.0" fill="#f3a89c"/>
<path d="M630.0 738.6L634.1 740.6L638.2 744.7L637.1 750.8L632.0 754.9L630.0 760.0" fill="none" stroke="#4a2a26" stroke-opacity="0.65" stroke-width="0.9" stroke-linejoin="round" stroke-linecap="round"/>
<polygon points="630.0,600.0 634.1,600.0 638.2,606.1 641.2,613.2 640.2,620.4 641.2,627.5 644.3,633.6 640.2,635.7 635.1,636.7 630.0,635.7" fill="#f9d8d4"/>
<path d="M634.1 600.0L638.2 606.1L641.2 613.2L640.2 620.4L641.2 627.5L644.3 633.6L640.2 635.7L635.1 636.7L630.0 635.7" fill="none" stroke="#4a2a26" stroke-opacity="0.65" stroke-width="0.9" stroke-linejoin="round" stroke-linecap="round"/>
<polygon points="630.0,635.7 635.1,636.7 640.2,635.7 644.3,633.6 645.3,638.7 642.2,643.8 638.2,647.9 634.1,648.9 630.0,647.9" fill="#e96b55"/>
<path d="M630.0 635.7L635.1 636.7L640.2 635.7L644.3 633.6L645.3 638.7L642.2 643.8L638.2 647.9L634.1 648.9L630.0 647.9" fill="none" stroke="#4a2a26" stroke-opacity="0.65" stroke-width="0.9" stroke-linejoin="round" stroke-linecap="round"/>
<polygon points="567.5,719.7 574.4,717.1 583.9,714.5 595.1,712.8 608.8,711.1 622.6,711.1 627.7,712.8 632.9,716.2 633.8,720.5 629.5,723.1 624.3,724.0 620.0,723.1 616.6,724.8 616.6,729.1 620.9,731.7 626.0,730.0 629.5,728.3 631.2,732.6 633.8,736.0 632.9,740.3 638.1,739.5 643.2,738.6 644.1,745.5 638.1,747.2 633.8,751.5 631.2,754.9 631.2,767.3 608.0,767.3 609.7,758.4 610.5,751.5 604.5,749.8 595.1,746.3 585.6,742.9 580.4,735.2 574.4,727.4" fill="#f3a89c" stroke="#4a2a26" stroke-opacity="0.65" stroke-width="0.9" stroke-linejoin="round" stroke-linecap="round"/>
<polygon points="631.2,767.3 631.2,754.9 633.8,751.5 638.1,747.2 644.1,745.5 646.7,741.2 651.8,736.0 658.7,735.2 664.7,734.3 662.2,730.0 660.4,727.4 665.6,726.6 672.5,728.3 679.4,729.1 684.5,731.7 689.7,733.4 700.0,732.6 700.0,767.3" fill="#cc301a"/>
<path d="M700.0 767.3L631.2 767.3L631.2 754.9L633.8 751.5L638.1 747.2L644.1 745.5L646.7 741.2L651.8 736.0L658.7 735.2L664.7 734.3L662.2 730.0L660.4 727.4L665.6 726.6L672.5 728.3L679.4 729.1L684.5 731.7L689.7 733.4L700.0 732.6" fill="none" stroke="#4a2a26" stroke-opacity="0.65" stroke-width="0.9" stroke-linejoin="round" stroke-linecap="round"/>
<polygon points="643.2,677.5 647.5,676.7 650.1,680.1 647.5,684.4 650.1,690.4 651.8,696.5 655.3,699.9 662.2,700.8 668.2,701.6 671.6,705.1 669.9,710.2 667.3,715.4 668.2,720.5 671.6,725.7 665.6,726.6 660.4,727.4 662.2,730.0 664.7,734.3 658.7,735.2 651.8,736.0 646.7,741.2 644.1,745.5 643.2,738.6 638.1,739.5 632.9,740.3 633.8,736.0 631.2,732.6 629.5,728.3 626.0,730.0 620.9,731.7 616.6,729.1 616.6,724.8 620.0,723.1 624.3,724.0 629.5,723.1 633.8,720.5 632.9,716.2 627.7,712.8 628.6,707.6 630.3,702.5 632.9,698.2 633.8,693.9 636.3,690.4 638.9,687.0 640.6,682.7" fill="#f9d8d4" stroke="#4a2a26" stroke-opacity="0.65" stroke-width="0.9" stroke-linejoin="round" stroke-linecap="round"/>
<polygon points="650.1,650.0 669.0,650.0 670.8,655.2 675.9,659.5 682.8,662.0 689.7,663.8 694.8,667.2 700.0,670.6 700.0,732.6 689.7,733.4 684.5,731.7 679.4,729.1 672.5,728.3 671.6,725.7 668.2,720.5 667.3,715.4 669.9,710.2 671.6,705.1 668.2,701.6 662.2,700.8 655.3,699.9 651.8,696.5 650.1,690.4 647.5,684.4 650.1,680.1 647.5,676.7 643.2,672.4 644.9,667.2 648.4,662.0 650.1,656.9" fill="#57160c"/>
<path d="M669.0 650.0L670.8 655.2L675.9 659.5L682.8 662.0L689.7 663.8L694.8 667.2L700.0 670.6M700.0 732.6L689.7 733.4L684.5 731.7L679.4 729.1L672.5 728.3L671.6 725.7L668.2 720.5L667.3 715.4L669.9 710.2L671.6 705.1L668.2 701.6L662.2 700.8L655.3 699.9L651.8 696.5L650.1 690.4L647.5 684.4L650.1 680.1L647.5 676.7L643.2 672.4L644.9 667.2L648.4 662.0L650.1 656.9L650.1 650.0" fill="none" stroke="#4a2a26" stroke-opacity="0.65" stroke-width="0.9" stroke-linejoin="round" stroke-linecap="round"/>
<polygon points="559.8,658.6 565.8,656.9 572.7,659.5 579.6,657.7 586.5,658.6 590.8,660.3 589.9,665.5 588.2,670.6 586.5,675.8 583.9,681.0 583.0,685.3 587.3,688.7 589.9,692.2 586.5,693.0 587.3,698.2 591.6,702.5 584.7,704.2 583.9,714.5 574.4,717.1 567.5,719.7 559.8,712.8 556.3,710.2 561.5,706.8 567.5,703.3 568.4,699.0 564.9,694.7 560.6,692.2 556.3,693.9 552.0,697.3 546.9,699.9 542.6,701.6 540.0,699.9 540.0,687.0 545.2,684.4 550.3,681.8 554.6,679.2 555.5,672.4 558.9,670.6 560.6,664.6" fill="#f9d8d4"/>
<path d="M540.0 687.0L545.2 684.4L550.3 681.8L554.6 679.2L555.5 672.4L558.9 670.6L560.6 664.6L559.8 658.6L565.8 656.9L572.7 659.5L579.6 657.7L586.5 658.6L590.8 660.3L589.9 665.5L588.2 670.6L586.5 675.8L583.9 681.0L583.0 685.3L587.3 688.7L589.9 692.2L586.5 693.0L587.3 698.2L591.6 702.5L584.7 704.2L583.9 714.5L574.4 717.1L567.5 719.7L559.8 712.8L556.3 710.2L561.5 706.8L567.5 703.3L568.4 699.0L564.9 694.7L560.6 692.2L556.3 693.9L552.0 697.3L546.9 699.9L542.6 701.6L540.0 699.9" fill="none" stroke="#4a2a26" stroke-opacity="0.65" stroke-width="0.9" stroke-linejoin="round" stroke-linecap="round"/>
<polygon points="540.0,650.0 562.4,650.0 563.2,654.3 559.8,658.6 560.6,664.6 558.9,670.6 555.5,672.4 554.6,679.2 550.3,681.8 545.2,684.4 540.0,683.5" fill="#e96b55"/>
<path d="M562.4 650.0L563.2 654.3L559.8 658.6L560.6 664.6L558.9 670.6L555.5 672.4L554.6 679.2L550.3 681.8L545.2 684.4L540.0 683.5" fill="none" stroke="#4a2a26" stroke-opacity="0.65" stroke-width="0.9" stroke-linejoin="round" stroke-linecap="round"/>
<polygon points="590.8,664.6 595.1,666.3 599.4,668.9 602.8,672.4 606.2,675.8 608.8,680.1 610.5,684.4 614.0,687.8 617.4,692.2 619.1,697.3 620.0,703.3 620.9,710.2 615.7,711.1 608.8,711.1 608.8,706.8 606.2,701.6 606.2,696.5 600.2,695.6 595.1,693.0 589.9,692.2 587.3,688.7 583.0,685.3 583.9,681.0 586.5,675.8 588.2,670.6 589.9,665.5" fill="#e96b55" stroke="#4a2a26" stroke-opacity="0.65" stroke-width="0.9" stroke-linejoin="round" stroke-linecap="round"/>
<polygon points="584.7,704.2 591.6,702.5 596.8,703.3 601.9,706.8 607.1,709.4 608.8,711.1 595.1,712.8 583.9,714.5" fill="#e96b55" stroke="#4a2a26" stroke-opacity="0.65" stroke-width="0.9" stroke-linejoin="round" stroke-linecap="round"/>
<polygon points="589.9,692.2 595.1,693.0 600.2,695.6 606.2,696.5 606.2,701.6 605.4,705.9 601.9,706.8 596.8,703.3 591.6,702.5 587.3,698.2 586.5,693.0" fill="#f9d8d4" stroke="#4a2a26" stroke-opacity="0.65" stroke-width="0.9" stroke-linejoin="round" stroke-linecap="round"/>
<polygon points="612.3,657.7 615.7,656.9 619.1,660.3 621.7,664.6 625.2,668.9 629.5,669.8 630.3,673.2 626.9,675.8 624.3,680.1 626.0,685.3 630.3,687.8 633.8,690.4 633.8,693.9 632.9,698.2 630.3,702.5 628.6,707.6 627.7,712.8 622.6,711.1 620.9,710.2 620.0,703.3 619.1,697.3 617.4,692.2 614.0,687.8 610.5,684.4 608.8,680.1 608.0,675.8 609.7,670.6 611.4,664.6" fill="#f3a89c" stroke="#4a2a26" stroke-opacity="0.65" stroke-width="0.9" stroke-linejoin="round" stroke-linecap="round"/>
<polygon points="562.4,650.0 622.6,650.0 620.9,655.2 615.7,656.9 612.3,657.7 608.8,659.5 605.4,657.7 601.9,660.3 598.5,662.9 595.1,662.0 590.8,660.3 586.5,658.6 579.6,657.7 572.7,659.5 565.8,656.9 563.2,654.3" fill="#a12917"/>
<path d="M622.6 650.0L620.9 655.2L615.7 656.9L612.3 657.7L608.8 659.5L605.4 657.7L601.9 660.3L598.5 662.9L595.1 662.0L590.8 660.3L586.5 658.6L579.6 657.7L572.7 659.5L565.8 656.9L563.2 654.3L562.4 650.0" fill="none" stroke="#4a2a26" stroke-opacity="0.65" stroke-width="0.9" stroke-linejoin="round" stroke-linecap="round"/>
<polygon points="622.6,650.0 633.8,650.0 634.6,655.2 638.9,657.7 643.2,660.3 644.9,667.2 643.2,672.4 640.6,677.5 640.6,682.7 638.9,687.0 636.3,690.4 633.8,690.4 630.3,687.8 626.0,685.3 624.3,680.1 626.9,675.8 630.3,673.2 629.5,669.8 625.2,668.9 621.7,664.6 619.1,660.3 620.9,655.2" fill="#a12917"/>
<path d="M633.8 650.0L634.6 655.2L638.9 657.7L643.2 660.3L644.9 667.2L643.2 672.4L640.6 677.5L640.6 682.7L638.9 687.0L636.3 690.4L633.8 690.4L630.3 687.8L626.0 685.3L624.3 680.1L626.9 675.8L630.3 673.2L629.5 669.8L625.2 668.9L621.7 664.6L619.1 660.3L620.9 655.2L622.6 650.0" fill="none" stroke="#4a2a26" stroke-opacity="0.65" stroke-width="0.9" stroke-linejoin="round" stroke-linecap="round"/>
<polygon points="633.8,650.0 650.1,650.0 650.1,656.9 648.4,662.0 644.9,667.2 643.2,660.3 638.9,657.7 634.6,655.2" fill="#7f2110"/>
<path d="M650.1 650.0L650.1 656.9L648.4 662.0L644.9 667.2L643.2 660.3L638.9 657.7L634.6 655.2L633.8 650.0" fill="none" stroke="#4a2a26" stroke-opacity="0.65" stroke-width="0.9" stroke-linejoin="round" stroke-linecap="round"/>
<polygon points="130.0,50.0 153.6,50.0 161.8,50.6 166.9,52.5 168.2,55.7 166.9,57.6 170.8,59.6 173.9,62.1 175.9,65.3 178.4,67.8 177.1,69.1 172.0,70.4 166.9,71.7 164.4,74.8 163.1,78.0 161.8,83.1 161.2,88.2 161.8,90.8 159.3,94.6 157.4,97.8 155.5,100.3 152.9,103.5 151.0,107.3 151.0,112.4 152.9,116.2 153.6,120.1 151.0,123.9 149.1,127.7 149.1,132.8 147.8,137.9 146.6,141.7 130.0,141.7" fill="#7f2110"/>
<path d="M153.6 50.0L161.8 50.6L166.9 52.5L168.2 55.7L166.9 57.6L170.8 59.6L173.9 62.1L175.9 65.3L178.4 67.8L177.1 69.1L172.0 70.4L166.9 71.7L164.4 74.8L163.1 78.0L161.8 83.1L161.2 88.2L161.8 90.8L159.3 94.6L157.4 97.8L155.5 100.3L152.9 103.5L151.0 107.3L151.0 112.4L152.9 116.2L153.6 120.1L151.0 123.9L149.1 127.7L149.1 132.8L147.8 137.9L146.6 141.7L130.0 141.7" fill="none" stroke="#4a2a26" stroke-opacity="0.65" stroke-width="0.9" stroke-linejoin="round" stroke-linecap="round"/>
<polygon points="177.1,69.1 181.0,69.7 186.1,69.1 186.7,65.9 189.9,64.0 192.4,62.7 194.3,62.4 192.7,64.0 192.4,69.1 193.1,74.2 193.7,76.8 189.9,78.7 186.1,79.9 182.2,81.8 180.3,84.4 179.0,86.9 175.9,88.9 173.3,88.2 174.6,85.0 173.3,83.4 169.5,83.4 168.2,86.9 165.7,89.5 161.8,90.8 161.2,88.2 161.8,83.1 163.1,78.0 164.4,74.8 166.9,71.7 172.0,70.4" fill="#a12917" stroke="#4a2a26" stroke-opacity="0.65" stroke-width="0.9" stroke-linejoin="round" stroke-linecap="round"/>
<polygon points="193.7,76.8 196.2,83.1 199.4,90.8 203.2,99.7 207.1,107.3 209.6,111.1 206.4,111.8 202.6,110.9 198.8,109.9 195.0,109.2 191.1,109.9 188.6,108.0 186.1,108.6 183.5,111.8 180.3,112.4 177.1,111.8 175.9,109.2 172.0,108.9 166.9,108.6 160.6,108.0 159.3,104.8 157.4,102.2 155.5,100.3 157.4,97.8 159.3,94.6 161.8,90.8 165.7,89.5 168.2,86.9 169.5,83.4 173.3,83.4 174.6,85.0 173.3,88.2 175.9,88.9 179.0,86.9 180.3,84.4 182.2,81.8 186.1,79.9 189.9,78.7" fill="#f3a89c" stroke="#4a2a26" stroke-opacity="0.65" stroke-width="0.9" stroke-linejoin="round" stroke-linecap="round"/>
<polygon points="527.7,669.9 521.0,671.8 524.8,676.6 528.7,682.3 530.6,684.2 528.7,678.5 529.6,672.7 531.5,667.0" fill="#cc301a"/>
<polygon points="451.7,601.7 456.4,599.7 461.2,598.8 466.0,601.7 469.8,604.5 474.6,605.5 479.4,603.6 483.2,605.5 482.2,610.3 477.5,612.2 473.6,615.0 471.7,618.9 466.9,620.8 462.2,622.7 457.4,623.6 454.5,626.5 451.7,629.4 447.8,631.3 445.0,634.1 441.1,634.1 443.1,629.4 445.0,623.6 444.0,617.9 442.1,613.1 445.0,608.3 447.8,604.5" fill="#57160c" stroke="#4a2a26" stroke-opacity="0.65" stroke-width="0.9" stroke-linejoin="round" stroke-linecap="round"/>
<polygon points="428.7,637.0 430.6,639.9 435.4,639.9 440.2,637.0 441.1,634.1 437.3,634.1 432.5,635.1" fill="#57160c" stroke="#4a2a26" stroke-opacity="0.65" stroke-width="0.9" stroke-linejoin="round" stroke-linecap="round"/>
<polygon points="467.9,567.3 472.7,565.4 476.5,567.3 478.4,572.0 482.2,576.8 486.1,580.6 489.9,584.5 491.8,587.3 487.0,589.2 482.2,591.1 483.2,595.9 481.3,600.7 475.5,603.6 469.8,604.5 466.0,601.7 461.2,598.8 456.4,597.8 453.6,594.0 451.7,590.2 454.5,584.5 457.4,582.5 461.2,578.7 464.1,573.9 465.6,568.2" fill="#e96b55" stroke="#4a2a26" stroke-opacity="0.65" stroke-width="0.9" stroke-linejoin="round" stroke-linecap="round"/>
<polygon points="669.7,642.8 673.8,640.8 678.9,639.7 682.0,636.7 685.0,633.6 689.1,635.7 694.4,637.9 696.2,643.8 698.3,648.9 696.2,655.0 693.2,659.1 691.1,663.2 685.0,661.1 678.9,661.1 672.8,661.1 668.7,659.1 667.7,653.0 666.7,646.9 665.1,643.8" fill="#cc301a" stroke="#4a2a26" stroke-opacity="0.65" stroke-width="0.9" stroke-linejoin="round" stroke-linecap="round"/>
<polygon points="721.9,767.3 721.9,762.4 731.9,760.4 742.9,755.3 744.1,761.0 752.9,767.3" fill="#a12917"/>
<polygon points="451.7,548.2 456.4,546.2 462.2,548.2 466.9,551.0 468.3,556.8 466.0,562.5 465.6,568.2 464.1,573.9 461.2,578.7 457.4,582.5 454.5,584.5 451.7,580.6 449.7,575.9 446.9,571.1 445.9,565.4 445.0,559.6 446.9,553.9" fill="#f3a89c" stroke="#4a2a26" stroke-opacity="0.65" stroke-width="0.9" stroke-linejoin="round" stroke-linecap="round"/>
<polyline points="721.9,762.4 731.9,760.4 742.9,755.3" fill="none" stroke="#6b2a22" stroke-width="0.8"/>
<polygon points="454.5,626.5 457.4,623.6 462.2,622.7 466.9,620.8 469.8,621.7 473.6,624.6 475.2,629.4 474.6,635.1 475.5,639.9 471.7,638.9 466.0,638.0 460.3,637.0 455.5,637.0 453.6,633.2 452.6,629.4" fill="#f3a89c" stroke="#4a2a26" stroke-opacity="0.65" stroke-width="0.9" stroke-linejoin="round" stroke-linecap="round"/>
<polygon points="447.8,631.3 451.7,629.4 453.6,633.2 455.5,637.0 450.7,639.9 445.9,639.9 444.0,636.1 445.0,634.1" fill="#f9d8d4" stroke="#4a2a26" stroke-opacity="0.65" stroke-width="0.9" stroke-linejoin="round" stroke-linecap="round"/>
<polygon points="202.1,178.5 204.0,175.6 208.8,174.6 214.5,173.7 220.3,171.8 224.1,172.7 226.0,176.6 225.6,181.3 222.2,183.2 216.4,182.3 211.7,185.2 206.9,184.2 203.1,182.3" fill="#ebebeb" stroke="#4a2a26" stroke-opacity="0.65" stroke-width="0.9" stroke-linejoin="round" stroke-linecap="round"/>
<polygon points="161.7,196.3 165.5,197.3 167.5,202.0 171.3,205.9 176.1,208.7 178.9,212.5 176.1,217.3 171.3,219.2 165.5,220.2 163.6,216.4 159.8,211.6 155.0,207.8 156.0,203.9 159.8,198.2" fill="#f3a89c" stroke="#4a2a26" stroke-opacity="0.65" stroke-width="0.9" stroke-linejoin="round" stroke-linecap="round"/>
<polygon points="194.2,210.6 199.9,209.7 203.8,210.6 207.6,213.5 207.6,217.3 203.8,221.1 201.8,223.1 198.0,219.2 192.3,215.4" fill="#cc301a" stroke="#4a2a26" stroke-opacity="0.65" stroke-width="0.9" stroke-linejoin="round" stroke-linecap="round"/>
<polygon points="247.3,299.4 250.2,302.3 252.1,311.8 241.6,309.9 244.5,304.2" fill="#3b110a" stroke="#4a2a26" stroke-opacity="0.65" stroke-width="0.9" stroke-linejoin="round" stroke-linecap="round"/>
<polygon points="190.0,180.0 201.5,180.0 198.6,185.7 195.7,190.5 191.9,195.3 190.0,197.2" fill="#ebebeb"/>
<path d="M201.5 180.0L198.6 185.7L195.7 190.5L191.9 195.3L190.0 197.2" fill="none" stroke="#4a2a26" stroke-opacity="0.65" stroke-width="0.9" stroke-linejoin="round" stroke-linecap="round"/>
<polygon points="247.8,298.7 249.7,302.5 251.6,308.2 250.6,312.0 244.9,311.1 241.1,308.2 243.0,304.4 245.9,300.6" fill="#3b110a" stroke="#4a2a26" stroke-opacity="0.65" stroke-width="0.9" stroke-linejoin="round" stroke-linecap="round"/>
<polygon points="323.1,416.8 326.9,415.9 328.9,419.7 326.0,422.5 323.1,421.6" fill="#e96b55" stroke="#4a2a26" stroke-opacity="0.65" stroke-width="0.9" stroke-linejoin="round" stroke-linecap="round"/>
<polygon points="317.4,442.6 321.2,439.7 326.0,438.8 329.8,437.8 334.6,438.8 337.5,439.7 335.5,443.6 332.7,446.4 328.9,448.3 325.0,451.2 321.2,450.3 318.3,447.4 316.4,444.5" fill="#3b110a" stroke="#4a2a26" stroke-opacity="0.65" stroke-width="0.9" stroke-linejoin="round" stroke-linecap="round"/>
<polygon points="331.7,494.2 337.5,493.2 344.1,493.2 349.9,493.2 352.7,495.2 349.9,497.6 343.2,498.0 336.5,497.6 331.7,496.5" fill="#ebebeb" stroke="#4a2a26" stroke-opacity="0.65" stroke-width="0.9" stroke-linejoin="round" stroke-linecap="round"/>
<polygon points="310.7,506.6 315.5,507.6 313.6,512.4 310.7,517.1 307.8,520.0 289.7,520.0 287.8,516.2 292.5,514.3 297.3,512.4 302.1,510.4 305.9,508.5" fill="#cc301a"/>
<path d="M289.7 520.0L287.8 516.2L292.5 514.3L297.3 512.4L302.1 510.4L305.9 508.5L310.7 506.6L315.5 507.6L313.6 512.4L310.7 517.1L307.8 520.0" fill="none" stroke="#4a2a26" stroke-opacity="0.65" stroke-width="0.9" stroke-linejoin="round" stroke-linecap="round"/>
<polygon points="403.4,485.9 407.3,484.0 411.1,481.1 414.9,484.0 418.7,481.1 423.5,483.1 426.4,486.9 431.1,486.9 432.1,491.7 431.1,496.4 428.3,500.3 424.5,502.2 420.6,501.2 416.8,498.3 413.0,497.4 409.2,495.5 406.3,491.7 404.4,488.8" fill="#000000" stroke="#4a2a26" stroke-opacity="0.65" stroke-width="0.9" stroke-linejoin="round" stroke-linecap="round"/>
<polygon points="333.1,493.8 339.8,492.3 347.5,492.3 352.2,493.8 349.4,496.7 341.7,497.6 336.0,497.3" fill="#ebebeb" stroke="#4a2a26" stroke-opacity="0.65" stroke-width="0.9" stroke-linejoin="round" stroke-linecap="round"/>
<polygon points="284.4,534.9 290.1,533.9 295.9,535.9 299.7,538.7 297.8,541.6 292.0,542.5 287.3,541.6" fill="#a12917" stroke="#4a2a26" stroke-opacity="0.65" stroke-width="0.9" stroke-linejoin="round" stroke-linecap="round"/>
<polygon points="298.7,540.6 302.5,540.1 304.5,543.5 301.6,546.4 298.2,544.5" fill="#3b110a" stroke="#4a2a26" stroke-opacity="0.65" stroke-width="0.9" stroke-linejoin="round" stroke-linecap="round"/>
<polygon points="315.9,521.5 320.7,520.6 325.5,521.5 327.4,526.3 330.3,529.2 329.3,534.9 326.4,538.7 323.6,542.5 319.7,544.5 316.9,541.6 315.0,537.8 312.1,533.9 310.2,529.2 312.1,525.4" fill="#3b110a" stroke="#4a2a26" stroke-opacity="0.65" stroke-width="0.9" stroke-linejoin="round" stroke-linecap="round"/>
<polygon points="267.2,553.1 271.0,551.1 273.9,554.0 272.0,556.9 268.2,556.5" fill="#f9d8d4" stroke="#4a2a26" stroke-opacity="0.65" stroke-width="0.9" stroke-linejoin="round" stroke-linecap="round"/>
<polygon points="297.8,559.7 305.4,557.8 313.1,556.9 318.8,555.9 319.7,559.7 315.0,562.6 307.3,563.6 300.6,563.6" fill="#f3a89c" stroke="#4a2a26" stroke-opacity="0.65" stroke-width="0.9" stroke-linejoin="round" stroke-linecap="round"/>
<polygon points="297.8,566.4 302.5,564.9 307.3,566.4 307.3,570.3 303.5,572.2 298.7,571.2" fill="#f3a89c" stroke="#4a2a26" stroke-opacity="0.65" stroke-width="0.9" stroke-linejoin="round" stroke-linecap="round"/>
<polygon points="301.6,591.3 306.4,588.4 311.1,585.5 315.9,584.6 319.7,585.5 318.8,587.5 314.0,591.3 309.2,595.1 305.4,598.9" fill="#ebebeb" stroke="#4a2a26" stroke-opacity="0.65" stroke-width="0.9" stroke-linejoin="round" stroke-linecap="round"/>
<polygon points="298.7,552.1 302.5,551.1 305.4,554.0 303.5,556.9 299.7,555.9" fill="#f9d8d4" stroke="#4a2a26" stroke-opacity="0.65" stroke-width="0.9" stroke-linejoin="round" stroke-linecap="round"/>
<polygon points="317.8,548.3 323.6,549.2 326.4,553.1 323.6,555.9 319.7,554.0" fill="#f9d8d4" stroke="#4a2a26" stroke-opacity="0.65" stroke-width="0.9" stroke-linejoin="round" stroke-linecap="round"/>
<polygon points="380.0,541.5 383.8,542.4 386.7,546.2 385.7,551.0 381.9,553.9 380.0,553.9" fill="#e96b55"/>
<path d="M380.0 541.5L383.8 542.4L386.7 546.2L385.7 551.0L381.9 553.9L380.0 553.9" fill="none" stroke="#4a2a26" stroke-opacity="0.65" stroke-width="0.9" stroke-linejoin="round" stroke-linecap="round"/>
<polygon points="509.9,571.1 513.8,569.2 519.5,570.1 524.3,572.0 522.4,577.8 520.4,582.5 518.5,588.3 515.7,586.4 513.8,581.6 511.8,577.8 510.9,573.9" fill="#f9d8d4" stroke="#4a2a26" stroke-opacity="0.65" stroke-width="0.9" stroke-linejoin="round" stroke-linecap="round"/>
<polygon points="584.7,706.4 589.5,703.6 595.2,702.6 600.0,702.2 600.0,713.1 593.3,714.1 586.6,715.0 584.7,711.2" fill="#e96b55"/>
<path d="M600.0 713.1L593.3 714.1L586.6 715.0L584.7 711.2L584.7 706.4L589.5 703.6L595.2 702.6L600.0 702.2" fill="none" stroke="#4a2a26" stroke-opacity="0.65" stroke-width="0.9" stroke-linejoin="round" stroke-linecap="round"/>
<polygon points="585.7,694.0 589.5,693.1 592.4,696.9 594.3,701.7 591.4,703.6 587.6,699.7 585.3,696.9" fill="#e96b55" stroke="#4a2a26" stroke-opacity="0.65" stroke-width="0.9" stroke-linejoin="round" stroke-linecap="round"/>
<polygon points="509.6,570.5 514.3,568.6 520.1,569.6 524.8,571.5 523.9,577.2 521.0,582.9 519.1,588.7 516.2,585.8 514.3,581.0 511.5,576.2" fill="#f9d8d4" stroke="#4a2a26" stroke-opacity="0.65" stroke-width="0.9" stroke-linejoin="round" stroke-linecap="round"/>
<polygon points="642.4,620.2 647.1,624.0 650.0,625.9 650.0,633.6 646.2,631.7 644.3,625.9 640.4,625.0" fill="#3b110a"/>
<path d="M650.0 633.6L646.2 631.7L644.3 625.9L640.4 625.0L642.4 620.2L647.1 624.0L650.0 625.9" fill="none" stroke="#4a2a26" stroke-opacity="0.65" stroke-width="0.9" stroke-linejoin="round" stroke-linecap="round"/>
<polygon points="604.1,658.4 608.9,658.4 612.7,660.3 611.8,666.1 608.9,670.8 605.1,672.7 602.2,669.9 600.3,665.1 601.3,661.3" fill="#cc301a" stroke="#4a2a26" stroke-opacity="0.65" stroke-width="0.9" stroke-linejoin="round" stroke-linecap="round"/>
<polygon points="585.0,693.8 588.9,695.7 591.7,700.4 589.8,704.3 586.0,702.4 584.1,697.6" fill="#e96b55" stroke="#4a2a26" stroke-opacity="0.65" stroke-width="0.9" stroke-linejoin="round" stroke-linecap="round"/>
<polygon points="584.1,705.2 589.8,704.3 595.5,703.3 601.3,704.3 606.1,707.1 607.0,710.0 584.1,710.0" fill="#e96b55"/>
<path d="M584.1 710.0L584.1 705.2L589.8 704.3L595.5 703.3L601.3 704.3L606.1 707.1L607.0 710.0" fill="none" stroke="#4a2a26" stroke-opacity="0.65" stroke-width="0.9" stroke-linejoin="round" stroke-linecap="round"/>
<polygon points="640.2,620.4 644.3,623.4 650.4,625.5 658.5,626.5 666.7,626.1 674.8,624.5 683.0,622.4 691.1,620.4 693.2,621.4 694.2,626.5 695.2,632.6 694.2,637.7 689.1,635.7 685.0,633.6 681.0,636.7 675.9,637.7 669.7,634.6 662.6,632.6 656.5,630.6 650.4,629.6 645.3,630.6 641.2,627.5" fill="#3b110a" stroke="#4a2a26" stroke-opacity="0.65" stroke-width="0.9" stroke-linejoin="round" stroke-linecap="round"/>
<polygon points="637.1,656.1 642.2,655.4 645.3,658.1 643.2,661.1 638.2,660.7" fill="#f9d8d4" stroke="#4a2a26" stroke-opacity="0.65" stroke-width="0.9" stroke-linejoin="round" stroke-linecap="round"/>
<polygon points="630.0,689.7 634.1,689.7 637.1,692.7 635.1,697.8 630.0,699.9" fill="#f3a89c"/>
<path d="M630.0 689.7L634.1 689.7L637.1 692.7L635.1 697.8L630.0 699.9" fill="none" stroke="#4a2a26" stroke-opacity="0.65" stroke-width="0.9" stroke-linejoin="round" stroke-linecap="round"/>
<polygon points="630.0,714.1 633.1,713.1 635.1,717.2 633.1,722.3 630.0,723.3" fill="#f3a89c"/>
<path d="M630.0 714.1L633.1 713.1L635.1 717.2L633.1 722.3L630.0 723.3" fill="none" stroke="#4a2a26" stroke-opacity="0.65" stroke-width="0.9" stroke-linejoin="round" stroke-linecap="round"/>
<polygon points="586.1,693.9 589.0,693.0 590.8,696.5 592.5,700.8 590.8,703.0 588.2,700.8 586.5,697.3" fill="#e96b55" stroke="#4a2a26" stroke-opacity="0.65" stroke-width="0.9" stroke-linejoin="round" stroke-linecap="round"/>
<polygon points="601.9,660.3 605.4,657.7 608.8,659.5 612.3,657.7 611.4,664.6 609.7,670.6 606.2,672.4 602.8,670.6 601.1,666.3" fill="#cc301a" stroke="#4a2a26" stroke-opacity="0.65" stroke-width="0.9" stroke-linejoin="round" stroke-linecap="round"/>
<polygon points="637.2,656.0 642.4,655.2 644.9,657.7 642.4,660.3 638.1,659.5" fill="#f9d8d4" stroke="#4a2a26" stroke-opacity="0.65" stroke-width="0.9" stroke-linejoin="round" stroke-linecap="round"/>
<polyline points="47.1,52.4 55.3,51.1 65.5,50.1 74.4,46.2" fill="none" stroke="#6a6a6a" stroke-width="0.8"/>
<path d="M92.2 146.1 L92.7 147.0 L85.9 148.7 L83.3 153.8 L85.9 162.7 L89.7 169.0 L94.8 172.9 L98.6 180.5 L101.1 187.6 L105.6 187.9 L103.4 193.4 L104.4 198.2 L99.6 201.1 L96.8 205.9 L100.6 208.7 L105.4 210.6 L109.7 209.6 L109.2 211.6 L114.9 221.1 L119.7 221.1 L123.5 219.2 L129.2 214.9 L132.1 222.1 L136.9 224.0 L141.8 222.0 L145.5 226.9 L148.3 229.7 L149.3 234.5 L146.4 238.3 L144.8 240.0 L141.6 240.0 L142.5 243.8 L140.6 248.6 L139.7 251.7 L139.9 252.1 L139.7 253.4 L143.8 257.5 L139.7 257.5 L139.2 258.2 L136.8 259.1 L135.5 262.9 L136.8 267.7 L139.3 272.7 L133.1 272.7 L128.1 269.4 L125.4 264.8 L123.9 264.6 L123.5 264.1 L121.1 264.1 L119.6 263.9 L118.9 264.1 L115.9 264.1 L111.1 267.0 L110.6 269.1 L110.1 269.6 L110.1 271.1 L109.2 274.6 L108.4 279.5 L105.3 281.1 L100.5 283.0 L97.6 287.8 L98.0 289.2 L97.7 289.9 L98.3 290.3 L98.6 291.6 L99.8 291.3 L100.6 291.8 L107.8 286.9 L111.8 284.5 L114.7 286.0 L110.1 290.6 L107.2 294.5 L107.1 294.9 L105.4 296.6 L106.4 299.1 L102.4 302.1 L101.5 305.9 L100.5 311.7 L95.7 313.6 L91.9 316.4 L95.7 321.2 L98.6 326.0 L99.6 331.7 L101.5 336.5 L108.2 338.4 L112.9 336.5 L116.8 332.7 L118.7 328.9 L124.4 326.9 L129.2 325.0 L133.0 320.3 L135.9 315.5 L139.7 313.6 L144.5 310.7 L152.1 301.1 L155.9 297.3 L156.9 297.3 L159.7 294.5 L160.3 293.1 L162.3 290.5 L165.5 294.5 L168.4 299.4 L169.3 305.0 L171.2 309.7 L174.1 310.7 L174.7 309.4 L182.7 301.4 L185.6 295.7 L184.6 289.9 L182.8 282.4 L183.6 277.3 L182.1 272.7 L182.4 271.2 L183.6 270.6 L185.5 266.8 L190.0 265.6 L190.0 266.9 L195.7 267.9 L200.8 268.7 L204.8 268.0 L207.5 270.7 L204.6 280.5 L203.8 282.3 L204.0 282.9 L203.8 283.4 L206.6 291.6 L210.4 293.1 L210.4 295.4 L212.6 299.6 L213.4 301.5 L215.3 302.9 L216.1 304.0 L217.2 304.4 L217.5 304.2 L227.6 305.9 L231.4 309.7 L237.0 312.6 L228.7 313.9 L227.3 316.6 L223.9 319.2 L222.9 319.7 L220.1 322.5 L219.0 324.2 L214.8 321.4 L212.5 320.3 L210.5 318.7 L210.2 319.1 L209.1 318.5 L208.7 319.4 L208.5 319.3 L205.6 323.1 L204.6 327.9 L205.0 328.1 L204.3 330.0 L206.8 330.0 L207.6 331.1 L211.8 333.2 L215.9 336.4 L212.5 341.2 L209.4 342.2 L207.8 343.8 L205.7 344.5 L206.7 348.3 L208.9 350.6 L208.5 352.7 L209.0 353.8 L208.6 356.0 L212.4 358.9 L218.2 359.8 L222.9 358.9 L225.5 360.8 L226.8 362.5 L226.8 366.5 L228.7 371.3 L230.6 370.8 L231.4 371.8 L235.2 369.9 L238.1 366.1 L240.0 362.3 L240.0 360.5 L241.1 358.9 L244.9 356.0 L245.9 351.2 L247.8 347.4 L251.6 346.4 L255.4 347.4 L256.4 344.5 L259.2 348.3 L282.2 356.0 L287.9 358.9 L288.9 359.8 L286.9 364.6 L283.1 370.0 L280.1 370.0 L278.2 375.7 L275.4 381.5 L273.6 385.6 L273.4 386.2 L273.7 387.1 L273.4 388.2 L270.6 392.9 L268.7 400.6 L266.8 417.8 L267.0 418.8 L266.9 420.0 L267.3 420.0 L268.7 425.4 L264.8 430.2 L261.0 434.0 L253.4 435.9 L252.4 440.7 L256.2 452.2 L261.0 455.0 L258.2 460.8 L259.1 464.6 L263.9 469.4 L271.5 468.4 L280.1 469.4 L283.9 475.1 L285.9 478.9 L293.5 479.9 L301.1 478.9 L311.7 480.8 L313.6 484.6 L311.7 489.4 L310.9 490.0 L308.3 490.0 L307.0 493.1 L305.0 495.2 L305.1 495.8 L301.6 498.6 L293.9 498.6 L286.3 499.6 L285.3 500.8 L284.9 500.9 L281.1 505.7 L280.5 506.8 L278.7 509.1 L276.8 516.8 L275.8 523.4 L278.7 528.2 L279.2 531.7 L278.7 533.0 L279.8 534.6 L276.8 539.7 L272.0 544.5 L271.0 550.2 L267.2 553.1 L268.2 556.9 L270.1 569.3 L274.8 571.2 L279.6 576.0 L284.4 574.1 L289.2 576.0 L294.9 578.9 L297.8 584.6 L301.6 591.3 L305.4 598.9 L309.2 595.1 L318.8 587.5 L323.6 584.6 L328.3 586.5 L334.1 587.5 L338.9 591.3 L343.6 594.1 L347.5 599.9 L351.3 604.6 L354.1 609.4 L358.0 610.4 L360.8 607.5 L358.9 602.7 L359.9 597.0 L358.0 591.3 L357.0 585.5 L358.9 579.8 L359.9 574.1 L358.0 570.3 L364.6 573.1 L371.3 576.9 L378.0 578.9 L383.8 579.8 L387.4 581.0 L390.5 583.5 L393.4 589.2 L397.2 595.0 L398.7 596.8 L400.0 598.9 L400.0 598.3 L406.8 606.4 L414.4 617.9 L417.3 623.6 L421.1 629.4 L424.9 634.1 L428.7 637.0 L430.6 639.9 L435.4 639.9 L440.2 637.0 L444.0 636.1 L445.9 639.9 L450.7 639.9 L452.1 639.0 L453.8 638.6 L457.0 637.0 L460.3 637.0 L471.7 638.9 L475.5 639.9 L479.4 654.2 L481.3 663.8 L481.0 665.7 L475.8 679.7 L474.8 687.3 L471.0 693.1 L471.0 696.9 L473.9 701.7 L478.7 705.5 L483.4 708.3 L487.3 710.3 L485.4 715.0 L489.2 716.0 L493.0 718.9 L496.8 723.6 L500.6 724.6 L505.4 722.7 L515.9 720.8 L517.8 716.0 L520.7 716.9 L525.5 714.1 L530.3 713.1 L534.1 708.3 L542.7 701.7 L547.5 700.7 L556.3 693.9 L560.0 692.4 L563.1 694.7 L566.9 699.5 L567.2 701.2 L566.6 703.6 L561.8 705.5 L558.5 708.8 L556.3 710.2 L559.8 712.8 L567.5 719.7 L574.4 727.4 L580.4 735.2 L585.6 742.9 L604.5 749.8 L610.5 751.5 L609.7 758.4 L608.0 767.3 L752.9 767.3 L769.4 759.0 L770.6 754.9 L774.7 749.8 L780.8 744.7 L785.9 739.6 L780.8 734.5 L777.8 729.4 L780.8 722.3 L782.9 707.0 L776.8 703.9 L771.7 699.9 L766.6 692.7 L760.4 688.7 L752.3 685.6 L747.2 681.5 L740.1 679.5 L735.0 673.4 L731.9 668.3 L725.8 666.2 L719.7 665.2 L717.2 659.1 L716.6 652.0 L717.6 645.9 L716.6 636.7 L713.6 631.6 L712.5 623.4 L709.1 621.4 L707.9 616.3 L699.3 618.3 L693.2 621.4 L691.1 620.4 L674.8 624.5 L666.7 626.1 L658.5 626.5 L650.4 625.5 L648.3 624.8 L642.4 620.2 L641.2 613.2 L639.5 607.8 L638.4 606.7 L634.1 600.0 L631.1 600.0 L629.0 598.2 L624.2 593.4 L620.4 587.7 L617.5 582.0 L614.6 577.2 L610.8 574.3 L604.1 574.3 L599.4 576.2 L585.0 572.4 L579.3 568.6 L575.5 563.8 L570.7 560.0 L567.8 555.2 L547.8 554.8 L517.6 554.8 L506.1 553.9 L496.6 552.0 L488.4 549.5 L475.1 544.2 L467.5 539.4 L461.7 534.6 L457.9 528.9 L455.0 521.3 L453.1 513.6 L451.2 507.9 L445.5 508.9 L438.8 506.9 L435.0 502.2 L433.1 495.5 L432.1 489.7 L431.6 489.1 L431.1 486.9 L430.0 486.9 L429.2 485.9 L423.5 483.1 L418.7 481.1 L413.0 478.3 L408.2 473.5 L405.4 467.8 L404.0 460.1 L404.4 453.4 L402.5 447.7 L397.7 441.0 L392.0 425.7 L390.0 419.8 L390.0 415.9 L387.1 408.2 L383.3 401.5 L377.6 394.8 L371.8 387.2 L366.1 377.6 L362.3 370.0 L360.6 370.0 L350.3 361.2 L349.6 361.2 L345.2 355.0 L329.9 339.7 L307.0 313.9 L285.0 292.0 L280.7 285.9 L279.8 283.4 L278.2 276.9 L277.9 271.7 L256.9 229.7 L252.1 221.1 L249.2 214.4 L247.3 206.8 L247.0 201.1 L248.0 193.8 L249.9 186.1 L251.0 183.1 L253.1 180.0 L252.4 180.0 L254.6 170.8 L255.6 164.1 L256.6 159.4 L241.3 147.9 L229.8 138.3 L220.3 128.8 L213.6 119.2 L208.8 111.3 L209.6 111.1 L207.1 107.3 L203.2 99.7 L193.7 76.8 L193.1 74.2 L192.4 69.1 L192.7 64.0 L194.3 62.4 L192.4 62.7 L186.7 65.9 L186.1 69.1 L181.0 69.7 L177.1 69.1 L178.4 67.8 L175.9 65.3 L173.9 62.1 L170.8 59.6 L169.2 58.8 L167.4 57.0 L168.2 55.7 L166.9 52.5 L166.2 52.3 L166.1 51.8 L163.9 51.4 L161.8 50.6 L158.9 50.4 L153.4 49.3 L140.6 41.7 L138.1 36.6 L134.3 34.0 L129.2 35.8 L122.8 35.8 L121.5 39.9 L113.9 44.2 L107.5 42.4 L101.1 41.7 L87.1 45.5 L82.0 44.7 L74.4 46.2 L74.4 48.8 L88.4 51.8 L94.8 55.7 L107.5 60.8 L111.3 64.6 L121.5 69.7 L119.0 74.8 L113.9 79.9 L108.8 86.2 L106.2 101.5 L102.4 105.4 L97.3 107.9 L91.0 107.4 L91.0 110.4 L94.8 113.0 L98.6 114.3 L96.1 118.1 L94.8 121.9 L98.6 124.5 L102.4 121.9 L101.1 127.0 L103.7 132.1 L101.1 138.5 L97.3 142.3ZM114.9 188.4 L122.4 180.9 L119.7 187.7 L120.4 192.5Z" fill="none" stroke="#5a4040" stroke-opacity="0.75" stroke-width="0.9" stroke-linejoin="round"/>
</g>
<g id="ui">
<text x="416.0" y="42.4" font-size="31" font-weight="bold" fill="#5e1a10" textLength="532.0" lengthAdjust="spacingAndGlyphs" stroke="#5e1a10" stroke-width="0.5" stroke-linejoin="round">CASOS POSITIVOS ACUMULADOS</text>
<text x="428.5" y="75.7" font-size="31" font-weight="bold" fill="#5e1a10" textLength="507.5" lengthAdjust="spacingAndGlyphs" stroke="#5e1a10" stroke-width="0.5" stroke-linejoin="round">POR MUNICIPIO DE RESIDENCIA</text>
<rect x="450.5" y="91" width="463" height="42" fill="#7b2315"/>
<text x="455.5" y="122.5" font-size="31" font-weight="bold" fill="#ffffff" textLength="454.0" lengthAdjust="spacingAndGlyphs" stroke="#ffffff" stroke-width="0.4" stroke-linejoin="round">18 DE SEPTIEMBRE DEL 2020</text>
<text x="866.5" y="212.3" font-size="48" font-weight="bold" fill="#872818" textLength="175.0" lengthAdjust="spacingAndGlyphs" stroke="#872818" stroke-width="2.4" stroke-linejoin="round">31,562</text>
<text x="870.5" y="240.3" font-size="16.2" font-weight="bold" fill="#3a120c" textLength="170.0" lengthAdjust="spacingAndGlyphs" stroke="#3a120c" stroke-width="0.9" stroke-linejoin="round">TOTAL DE CASOS</text>
<text x="881.0" y="262.8" font-size="16.2" font-weight="bold" fill="#3a120c" textLength="147.5" lengthAdjust="spacingAndGlyphs" stroke="#3a120c" stroke-width="0.9" stroke-linejoin="round">CONFIRMADOS</text>
<rect x="846.3" y="278.3" width="227" height="45.2" rx="17" ry="17" fill="#f9d8d4"/>
<text x="890.4" y="307.9" font-size="19.6" font-weight="bold" fill="#ffffff" textLength="138.8" lengthAdjust="spacingAndGlyphs" stroke="#ffffff" stroke-width="0.3" stroke-linejoin="round">Positivos 1 a 5</text>
<rect x="846.3" y="332.5" width="227" height="45.2" rx="17" ry="17" fill="#f3a89c"/>
<text x="884.6" y="362.1" font-size="19.6" font-weight="bold" fill="#ffffff" textLength="150.4" lengthAdjust="spacingAndGlyphs" stroke="#ffffff" stroke-width="0.3" stroke-linejoin="round">Positivos 6 a 10</text>
<rect x="846.3" y="386.7" width="227" height="45.2" rx="17" ry="17" fill="#e96b55"/>
<text x="878.5" y="416.3" font-size="19.6" font-weight="bold" fill="#ffffff" textLength="162.3" lengthAdjust="spacingAndGlyphs" stroke="#ffffff" stroke-width="0.3" stroke-linejoin="round">Positivos 11 a 20</text>
<rect x="844.7" y="440.3" width="230.3" height="45.2" rx="17" ry="17" fill="#cc331d"/>
<text x="878.5" y="470.0" font-size="19.6" font-weight="bold" fill="#ffffff" textLength="163.0" lengthAdjust="spacingAndGlyphs" stroke="#ffffff" stroke-width="0.3" stroke-linejoin="round">Positivos 21 a 50</text>
<rect x="844.7" y="494.5" width="230.3" height="45.2" rx="17" ry="17" fill="#9e2a18"/>
<text x="873.1" y="524.1" font-size="19.6" font-weight="bold" fill="#ffffff" textLength="173.8" lengthAdjust="spacingAndGlyphs" stroke="#ffffff" stroke-width="0.3" stroke-linejoin="round">Positivos 51 a 200</text>
<rect x="846.3" y="548.7" width="227" height="45.2" rx="17" ry="17" fill="#7a2214"/>
<text x="867.2" y="577.8" font-size="19.6" font-weight="bold" fill="#ffffff" textLength="185.8" lengthAdjust="spacingAndGlyphs" stroke="#ffffff" stroke-width="0.3" stroke-linejoin="round">Positivos 201 a 500</text>
<rect x="846.3" y="602.6" width="227" height="45.1" rx="17" ry="17" fill="#55180e"/>
<text x="864.4" y="631.9" font-size="19.6" font-weight="bold" fill="#ffffff" textLength="191.6" lengthAdjust="spacingAndGlyphs" stroke="#ffffff" stroke-width="0.3" stroke-linejoin="round">Positivos 501 a 1000</text>
<rect x="846.3" y="657.7" width="227" height="45.1" rx="17" ry="17" fill="#3b110a"/>
<text x="858.6" y="687.1" font-size="19.6" font-weight="bold" fill="#ffffff" textLength="202.9" lengthAdjust="spacingAndGlyphs" stroke="#ffffff" stroke-width="0.3" stroke-linejoin="round">Positivos 1001 a 5000</text>
<rect x="846.3" y="713.1" width="227" height="45.1" rx="17" ry="17" fill="#000000"/>
<text x="883.3" y="743.1" font-size="19.6" font-weight="bold" fill="#ffffff" textLength="152.8" lengthAdjust="spacingAndGlyphs" stroke="#ffffff" stroke-width="0.3" stroke-linejoin="round">Positivos &gt; 5000</text>
<rect x="1101.8" y="303" width="99.5" height="39.4" rx="8.5" ry="8.5" fill="#9bbb59"/>
<text x="1109.0" y="334.2" font-size="28.4" font-weight="bold" fill="#ffffff" textLength="85.2" lengthAdjust="spacingAndGlyphs" stroke="#ffffff" stroke-width="0.5" stroke-linejoin="round">16,465</text>
<text x="1122.2" y="360.0" font-size="9.4" font-weight="normal" fill="#1a1a1a" textLength="58.3" lengthAdjust="spacingAndGlyphs" stroke="#1a1a1a" stroke-width="0.35" stroke-linejoin="round">NEGATIVOS</text>
<rect x="1101.8" y="380.4" width="99.2" height="39.2" rx="8.5" ry="8.5" fill="#0f70c0"/>
<text x="1112.9" y="411.6" font-size="28.4" font-weight="bold" fill="#ffffff" textLength="77.5" lengthAdjust="spacingAndGlyphs" stroke="#ffffff" stroke-width="0.5" stroke-linejoin="round">2,395</text>
<text x="1117.0" y="436.4" font-size="9.4" font-weight="normal" fill="#1a1a1a" textLength="77.5" lengthAdjust="spacingAndGlyphs" stroke="#1a1a1a" stroke-width="0.35" stroke-linejoin="round">SOSPECHOSOS</text>
<rect x="1101.8" y="456.8" width="99.2" height="38.9" rx="8.5" ry="8.5" fill="#f60d14"/>
<text x="1103.8" y="487.5" font-size="28.4" font-weight="bold" fill="#ffffff" textLength="95.4" lengthAdjust="spacingAndGlyphs" stroke="#ffffff" stroke-width="0.5" stroke-linejoin="round">31,562</text>
<text x="1117.3" y="513.1" font-size="9.4" font-weight="normal" fill="#1a1a1a" textLength="77.0" lengthAdjust="spacingAndGlyphs" stroke="#1a1a1a" stroke-width="0.35" stroke-linejoin="round">CONFIRMADOS</text>
<rect x="1104.2" y="533.3" width="99.9" height="39.1" rx="8.5" ry="8.5" fill="#000000"/>
<text x="1114.7" y="565.0" font-size="28.4" font-weight="bold" fill="#ffffff" textLength="78.0" lengthAdjust="spacingAndGlyphs" stroke="#ffffff" stroke-width="0.5" stroke-linejoin="round">4,124</text>
<text x="1117.3" y="588.6" font-size="9.4" font-weight="normal" fill="#1a1a1a" textLength="74.3" lengthAdjust="spacingAndGlyphs" stroke="#1a1a1a" stroke-width="0.35" stroke-linejoin="round">DEFUNCIONES</text>
</g>
</svg>
</body></html>
